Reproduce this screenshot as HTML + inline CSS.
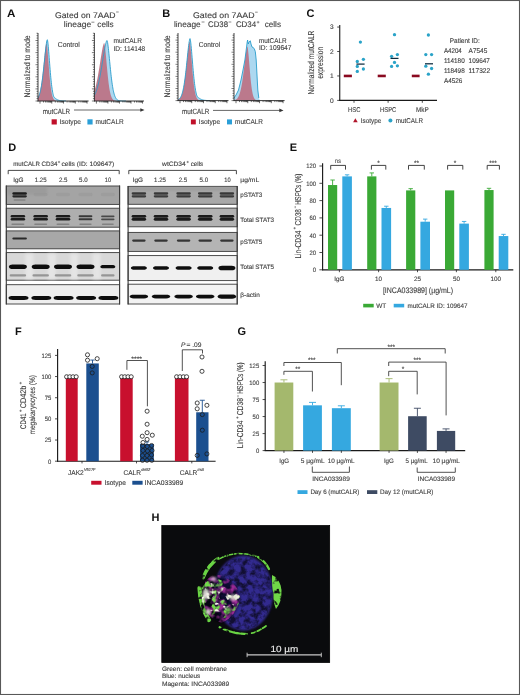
<!DOCTYPE html>
<html><head><meta charset="utf-8"><style>
html,body{margin:0;padding:0;background:#fff;}
svg{display:block;font-family:"Liberation Sans",sans-serif;text-rendering:geometricPrecision;will-change:transform;}
</style></head><body>
<svg width="520" height="695" viewBox="0 0 520 695">
<rect x="0" y="0" width="520" height="695" fill="#fff"/>
<defs><filter id="bl" x="-30%" y="-100%" width="160%" height="300%"><feGaussianBlur stdDeviation="0.6"/></filter><filter id="hb" x="-30%" y="-30%" width="160%" height="160%"><feGaussianBlur stdDeviation="0.9"/></filter><filter id="hb2" x="-30%" y="-30%" width="160%" height="160%"><feGaussianBlur stdDeviation="1.8"/></filter><radialGradient id="nuc" cx="0.55" cy="0.5" r="0.55"><stop offset="0" stop-color="#241c70"/><stop offset="0.8" stop-color="#30289a"/><stop offset="1" stop-color="#2a2290"/></radialGradient></defs>
<text x="6.90" y="16.70" font-size="11" textLength="8.40" lengthAdjust="spacingAndGlyphs" font-weight="bold" fill="#111">A</text>
<text x="55.00" y="17.60" font-size="8.1" textLength="60.60" lengthAdjust="spacingAndGlyphs" fill="#3e3e3e" stroke="#3e3e3e" stroke-width="0.12">Gated on 7AAD</text>
<line x1="116.10" y1="12.00" x2="118.70" y2="12.00" stroke="#3e3e3e" stroke-width="0.6"/>
<text x="63.80" y="27.40" font-size="8.1" textLength="27.40" lengthAdjust="spacingAndGlyphs" fill="#3e3e3e" stroke="#3e3e3e" stroke-width="0.12">lineage</text>
<line x1="91.40" y1="22.20" x2="94.40" y2="22.20" stroke="#3e3e3e" stroke-width="0.6"/>
<text x="97.30" y="27.40" font-size="8.1" textLength="16.40" lengthAdjust="spacingAndGlyphs" fill="#3e3e3e" stroke="#3e3e3e" stroke-width="0.12">cells</text>
<text x="29.90" y="97.40" font-size="8.3" textLength="62.00" lengthAdjust="spacingAndGlyphs" fill="#3e3e3e" stroke="#3e3e3e" stroke-width="0.12" transform="rotate(-90 29.90 97.40)">Normalized to mode</text>
<path d="M38.00,101.00 L38.00,97.88 L38.23,97.47 L38.47,97.02 L38.70,96.53 L38.93,95.97 L39.17,95.37 L39.40,94.70 L39.63,93.97 L39.87,93.17 L40.10,92.30 L40.33,91.35 L40.57,90.33 L40.80,89.22 L41.03,88.02 L41.27,86.74 L41.50,85.37 L41.73,83.90 L41.97,82.35 L42.20,80.70 L42.43,78.96 L42.67,77.13 L42.90,75.22 L43.13,73.23 L43.37,71.16 L43.60,69.03 L43.83,66.83 L44.07,64.59 L44.30,62.32 L44.53,60.03 L44.77,57.73 L45.00,55.45 L45.23,53.21 L45.47,51.03 L45.70,48.93 L45.93,46.95 L46.17,45.11 L46.40,43.45 L46.63,42.01 L46.87,40.85 L47.10,40.02 L47.33,39.73 L47.57,40.53 L47.80,42.01 L48.03,43.98 L48.27,46.32 L48.50,48.93 L48.73,51.75 L48.97,54.70 L49.20,57.73 L49.43,60.79 L49.67,63.84 L49.90,66.83 L50.13,69.74 L50.37,72.55 L50.60,75.22 L50.83,77.75 L51.07,80.13 L51.30,82.35 L51.53,84.40 L51.77,86.29 L52.00,88.02 L52.23,89.60 L52.47,91.02 L52.70,92.30 L52.93,93.44 L53.17,94.46 L53.40,95.37 L53.63,96.16 L53.87,96.86 L54.10,97.19 L54.33,97.40 L54.57,97.62 L54.80,97.82 L55.03,98.03 L55.27,98.22 L55.50,98.41 L55.73,98.59 L55.97,98.77 L56.20,98.94 L56.43,99.09 L56.67,99.25 L56.90,99.39 L57.13,99.52 L57.37,99.65 L57.60,99.77 L57.83,99.88 L58.07,99.98 L58.30,100.07 L58.53,100.16 L58.77,100.24 L59.00,100.32 L59.23,100.38 L59.47,100.45 L59.70,100.50 L59.93,100.56 L60.17,100.60 L60.40,100.65 L60.63,100.69 L60.87,100.72 L61.10,100.75 L61.33,100.78 L61.57,100.81 L61.80,100.83 L62.03,100.85 L62.27,100.87 L62.50,100.88 L62.73,100.90 L62.97,100.91 L63.20,100.92 L63.43,100.93 L63.67,100.94 L63.90,100.95 L64.13,100.96 L64.37,100.96 L64.60,100.97 L64.83,100.97 L65.07,100.98 L65.30,100.98 L65.53,100.98 L65.77,100.98 L66.00,100.99 L66.00,101.00" fill="#acd8f0" stroke="none" stroke-width="0.8" />
<path d="M38.00,101.00 L38.00,97.66 L38.20,97.28 L38.40,96.85 L38.60,96.38 L38.80,95.87 L39.00,95.32 L39.20,94.71 L39.40,94.05 L39.60,93.34 L39.80,92.57 L40.00,91.74 L40.20,90.84 L40.40,89.88 L40.60,88.86 L40.80,87.76 L41.00,86.59 L41.20,85.35 L41.40,84.04 L41.60,82.65 L41.80,81.19 L42.00,79.66 L42.20,78.06 L42.40,76.40 L42.60,74.67 L42.80,72.88 L43.00,71.04 L43.20,69.15 L43.40,67.22 L43.60,65.27 L43.80,63.29 L44.00,61.30 L44.20,59.32 L44.40,57.36 L44.60,55.42 L44.80,53.54 L45.00,51.73 L45.20,50.01 L45.40,48.41 L45.60,46.94 L45.80,45.63 L46.00,44.52 L46.20,43.66 L46.40,43.11 L46.60,43.17 L46.80,44.05 L47.00,45.40 L47.20,47.12 L47.40,49.12 L47.60,51.35 L47.80,53.74 L48.00,56.24 L48.20,58.83 L48.40,61.45 L48.60,64.08 L48.80,66.68 L49.00,69.24 L49.20,71.72 L49.40,74.12 L49.60,76.42 L49.80,78.61 L50.00,80.68 L50.20,82.63 L50.40,84.45 L50.60,86.14 L50.80,87.71 L51.00,89.15 L51.20,90.47 L51.40,91.67 L51.60,92.77 L51.80,93.76 L52.00,94.65 L52.20,95.44 L52.40,96.16 L52.60,96.79 L52.80,97.35 L53.00,97.85 L53.20,98.29 L53.40,98.67 L53.60,99.01 L53.80,99.30 L54.00,99.55 L54.20,99.77 L54.40,99.96 L54.60,100.12 L54.80,100.26 L55.00,100.38 L55.20,100.48 L55.40,100.56 L55.60,100.64 L55.80,100.70 L56.00,100.75 L56.20,100.79 L56.40,100.83 L56.60,100.86 L56.80,100.89 L57.00,100.91 L57.20,100.92 L57.40,100.94 L57.60,100.95 L57.80,100.96 L58.00,100.97 L58.20,100.97 L58.40,100.98 L58.60,100.98 L58.80,100.99 L59.00,100.99 L59.20,100.99 L59.40,100.99 L59.60,100.99 L59.80,101.00 L60.00,101.00 L60.20,101.00 L60.40,101.00 L60.60,101.00 L60.80,101.00 L61.00,101.00 L61.20,101.00 L61.40,101.00 L61.60,101.00 L61.80,101.00 L62.00,101.00 L62.00,101.00" fill="#bc7486" stroke="none" stroke-width="0.8" fill-opacity="0.95"/>
<path d="M38.00,97.88 L38.23,97.47 L38.47,97.02 L38.70,96.53 L38.93,95.97 L39.17,95.37 L39.40,94.70 L39.63,93.97 L39.87,93.17 L40.10,92.30 L40.33,91.35 L40.57,90.33 L40.80,89.22 L41.03,88.02 L41.27,86.74 L41.50,85.37 L41.73,83.90 L41.97,82.35 L42.20,80.70 L42.43,78.96 L42.67,77.13 L42.90,75.22 L43.13,73.23 L43.37,71.16 L43.60,69.03 L43.83,66.83 L44.07,64.59 L44.30,62.32 L44.53,60.03 L44.77,57.73 L45.00,55.45 L45.23,53.21 L45.47,51.03 L45.70,48.93 L45.93,46.95 L46.17,45.11 L46.40,43.45 L46.63,42.01 L46.87,40.85 L47.10,40.02 L47.33,39.73 L47.57,40.53 L47.80,42.01 L48.03,43.98 L48.27,46.32 L48.50,48.93 L48.73,51.75 L48.97,54.70 L49.20,57.73 L49.43,60.79 L49.67,63.84 L49.90,66.83 L50.13,69.74 L50.37,72.55 L50.60,75.22 L50.83,77.75 L51.07,80.13 L51.30,82.35 L51.53,84.40 L51.77,86.29 L52.00,88.02 L52.23,89.60 L52.47,91.02 L52.70,92.30 L52.93,93.44 L53.17,94.46 L53.40,95.37 L53.63,96.16 L53.87,96.86 L54.10,97.19 L54.33,97.40 L54.57,97.62 L54.80,97.82 L55.03,98.03 L55.27,98.22 L55.50,98.41 L55.73,98.59 L55.97,98.77 L56.20,98.94 L56.43,99.09 L56.67,99.25 L56.90,99.39 L57.13,99.52 L57.37,99.65 L57.60,99.77 L57.83,99.88 L58.07,99.98 L58.30,100.07 L58.53,100.16 L58.77,100.24 L59.00,100.32 L59.23,100.38 L59.47,100.45 L59.70,100.50 L59.93,100.56 L60.17,100.60 L60.40,100.65 L60.63,100.69 L60.87,100.72 L61.10,100.75 L61.33,100.78 L61.57,100.81 L61.80,100.83 L62.03,100.85 L62.27,100.87 L62.50,100.88 L62.73,100.90 L62.97,100.91 L63.20,100.92 L63.43,100.93 L63.67,100.94 L63.90,100.95 L64.13,100.96 L64.37,100.96 L64.60,100.97 L64.83,100.97 L65.07,100.98 L65.30,100.98 L65.53,100.98 L65.77,100.98 L66.00,100.99" fill="none" stroke="#2a9dcc" stroke-width="0.9" />
<line x1="35.50" y1="101.00" x2="38.00" y2="101.00" stroke="#2a2a2a" stroke-width="0.6"/>
<line x1="36.50" y1="98.58" x2="38.00" y2="98.58" stroke="#2a2a2a" stroke-width="0.6"/>
<line x1="36.50" y1="96.16" x2="38.00" y2="96.16" stroke="#2a2a2a" stroke-width="0.6"/>
<line x1="36.50" y1="93.74" x2="38.00" y2="93.74" stroke="#2a2a2a" stroke-width="0.6"/>
<line x1="36.50" y1="91.32" x2="38.00" y2="91.32" stroke="#2a2a2a" stroke-width="0.6"/>
<line x1="35.50" y1="88.90" x2="38.00" y2="88.90" stroke="#2a2a2a" stroke-width="0.6"/>
<line x1="36.50" y1="86.48" x2="38.00" y2="86.48" stroke="#2a2a2a" stroke-width="0.6"/>
<line x1="36.50" y1="84.06" x2="38.00" y2="84.06" stroke="#2a2a2a" stroke-width="0.6"/>
<line x1="36.50" y1="81.64" x2="38.00" y2="81.64" stroke="#2a2a2a" stroke-width="0.6"/>
<line x1="36.50" y1="79.22" x2="38.00" y2="79.22" stroke="#2a2a2a" stroke-width="0.6"/>
<line x1="35.50" y1="76.80" x2="38.00" y2="76.80" stroke="#2a2a2a" stroke-width="0.6"/>
<line x1="36.50" y1="74.38" x2="38.00" y2="74.38" stroke="#2a2a2a" stroke-width="0.6"/>
<line x1="36.50" y1="71.96" x2="38.00" y2="71.96" stroke="#2a2a2a" stroke-width="0.6"/>
<line x1="36.50" y1="69.54" x2="38.00" y2="69.54" stroke="#2a2a2a" stroke-width="0.6"/>
<line x1="36.50" y1="67.12" x2="38.00" y2="67.12" stroke="#2a2a2a" stroke-width="0.6"/>
<line x1="35.50" y1="64.70" x2="38.00" y2="64.70" stroke="#2a2a2a" stroke-width="0.6"/>
<line x1="36.50" y1="62.28" x2="38.00" y2="62.28" stroke="#2a2a2a" stroke-width="0.6"/>
<line x1="36.50" y1="59.86" x2="38.00" y2="59.86" stroke="#2a2a2a" stroke-width="0.6"/>
<line x1="36.50" y1="57.44" x2="38.00" y2="57.44" stroke="#2a2a2a" stroke-width="0.6"/>
<line x1="36.50" y1="55.02" x2="38.00" y2="55.02" stroke="#2a2a2a" stroke-width="0.6"/>
<line x1="35.50" y1="52.60" x2="38.00" y2="52.60" stroke="#2a2a2a" stroke-width="0.6"/>
<line x1="36.50" y1="50.18" x2="38.00" y2="50.18" stroke="#2a2a2a" stroke-width="0.6"/>
<line x1="36.50" y1="47.76" x2="38.00" y2="47.76" stroke="#2a2a2a" stroke-width="0.6"/>
<line x1="36.50" y1="45.34" x2="38.00" y2="45.34" stroke="#2a2a2a" stroke-width="0.6"/>
<line x1="36.50" y1="42.92" x2="38.00" y2="42.92" stroke="#2a2a2a" stroke-width="0.6"/>
<line x1="35.50" y1="40.50" x2="38.00" y2="40.50" stroke="#2a2a2a" stroke-width="0.6"/>
<line x1="36.50" y1="38.08" x2="38.00" y2="38.08" stroke="#2a2a2a" stroke-width="0.6"/>
<line x1="36.50" y1="35.66" x2="38.00" y2="35.66" stroke="#2a2a2a" stroke-width="0.6"/>
<line x1="36.50" y1="33.24" x2="38.00" y2="33.24" stroke="#2a2a2a" stroke-width="0.6"/>
<line x1="40.00" y1="101.00" x2="40.00" y2="103.60" stroke="#222" stroke-width="0.65"/>
<line x1="43.54" y1="101.00" x2="43.54" y2="102.50" stroke="#222" stroke-width="0.65"/>
<line x1="45.61" y1="101.00" x2="45.61" y2="102.50" stroke="#222" stroke-width="0.65"/>
<line x1="47.08" y1="101.00" x2="47.08" y2="102.50" stroke="#222" stroke-width="0.65"/>
<line x1="48.23" y1="101.00" x2="48.23" y2="102.50" stroke="#222" stroke-width="0.65"/>
<line x1="49.16" y1="101.00" x2="49.16" y2="102.50" stroke="#222" stroke-width="0.65"/>
<line x1="49.94" y1="101.00" x2="49.94" y2="102.50" stroke="#222" stroke-width="0.65"/>
<line x1="50.63" y1="101.00" x2="50.63" y2="102.50" stroke="#222" stroke-width="0.65"/>
<line x1="51.23" y1="101.00" x2="51.23" y2="102.50" stroke="#222" stroke-width="0.65"/>
<line x1="51.77" y1="101.00" x2="51.77" y2="103.60" stroke="#222" stroke-width="0.65"/>
<line x1="55.31" y1="101.00" x2="55.31" y2="102.50" stroke="#222" stroke-width="0.65"/>
<line x1="57.38" y1="101.00" x2="57.38" y2="102.50" stroke="#222" stroke-width="0.65"/>
<line x1="58.85" y1="101.00" x2="58.85" y2="102.50" stroke="#222" stroke-width="0.65"/>
<line x1="59.99" y1="101.00" x2="59.99" y2="102.50" stroke="#222" stroke-width="0.65"/>
<line x1="60.92" y1="101.00" x2="60.92" y2="102.50" stroke="#222" stroke-width="0.65"/>
<line x1="61.71" y1="101.00" x2="61.71" y2="102.50" stroke="#222" stroke-width="0.65"/>
<line x1="62.39" y1="101.00" x2="62.39" y2="102.50" stroke="#222" stroke-width="0.65"/>
<line x1="63.00" y1="101.00" x2="63.00" y2="102.50" stroke="#222" stroke-width="0.65"/>
<line x1="63.53" y1="101.00" x2="63.53" y2="103.60" stroke="#222" stroke-width="0.65"/>
<line x1="67.08" y1="101.00" x2="67.08" y2="102.50" stroke="#222" stroke-width="0.65"/>
<line x1="69.15" y1="101.00" x2="69.15" y2="102.50" stroke="#222" stroke-width="0.65"/>
<line x1="70.62" y1="101.00" x2="70.62" y2="102.50" stroke="#222" stroke-width="0.65"/>
<line x1="71.76" y1="101.00" x2="71.76" y2="102.50" stroke="#222" stroke-width="0.65"/>
<line x1="72.69" y1="101.00" x2="72.69" y2="102.50" stroke="#222" stroke-width="0.65"/>
<line x1="73.48" y1="101.00" x2="73.48" y2="102.50" stroke="#222" stroke-width="0.65"/>
<line x1="74.16" y1="101.00" x2="74.16" y2="102.50" stroke="#222" stroke-width="0.65"/>
<line x1="74.76" y1="101.00" x2="74.76" y2="102.50" stroke="#222" stroke-width="0.65"/>
<line x1="75.30" y1="101.00" x2="75.30" y2="103.60" stroke="#222" stroke-width="0.65"/>
<line x1="78.84" y1="101.00" x2="78.84" y2="102.50" stroke="#222" stroke-width="0.65"/>
<line x1="80.92" y1="101.00" x2="80.92" y2="102.50" stroke="#222" stroke-width="0.65"/>
<line x1="82.39" y1="101.00" x2="82.39" y2="102.50" stroke="#222" stroke-width="0.65"/>
<line x1="83.53" y1="101.00" x2="83.53" y2="102.50" stroke="#222" stroke-width="0.65"/>
<line x1="84.46" y1="101.00" x2="84.46" y2="102.50" stroke="#222" stroke-width="0.65"/>
<line x1="85.25" y1="101.00" x2="85.25" y2="102.50" stroke="#222" stroke-width="0.65"/>
<line x1="85.93" y1="101.00" x2="85.93" y2="102.50" stroke="#222" stroke-width="0.65"/>
<line x1="86.53" y1="101.00" x2="86.53" y2="102.50" stroke="#222" stroke-width="0.65"/>
<line x1="87.07" y1="101.00" x2="87.07" y2="103.60" stroke="#222" stroke-width="0.65"/>
<line x1="38.00" y1="33.00" x2="38.00" y2="101.40" stroke="#222" stroke-width="0.85"/>
<line x1="37.60" y1="101.00" x2="88.60" y2="101.00" stroke="#222" stroke-width="0.9"/>
<text x="57.70" y="46.50" font-size="7.2" textLength="22.10" lengthAdjust="spacingAndGlyphs" fill="#3e3e3e" stroke="#3e3e3e" stroke-width="0.12">Control</text>
<path d="M94.40,101.00 L94.40,95.25 L94.66,94.77 L94.93,94.25 L95.19,93.70 L95.45,93.12 L95.72,92.49 L95.98,91.83 L96.24,91.13 L96.51,90.39 L96.77,89.60 L97.03,88.77 L97.30,87.89 L97.56,86.97 L97.82,86.01 L98.09,84.99 L98.35,83.93 L98.61,82.82 L98.88,81.67 L99.14,80.46 L99.40,79.21 L99.67,77.92 L99.93,76.58 L100.19,75.20 L100.46,73.77 L100.72,72.31 L100.98,70.81 L101.25,69.28 L101.51,67.72 L101.77,66.13 L102.04,64.53 L102.30,62.90 L102.56,61.27 L102.83,59.63 L103.09,58.00 L103.35,56.37 L103.62,54.76 L103.88,53.18 L104.14,51.63 L104.41,50.13 L104.67,48.68 L104.93,47.30 L105.20,45.99 L105.46,44.78 L105.72,43.67 L105.99,42.68 L106.25,41.84 L106.51,41.16 L106.78,40.68 L107.04,40.52 L107.30,41.20 L107.57,42.45 L107.83,44.11 L108.09,46.09 L108.36,48.31 L108.62,50.73 L108.88,53.29 L109.15,55.95 L109.41,58.66 L109.67,61.39 L109.94,64.10 L110.20,66.78 L110.46,69.39 L110.73,71.92 L110.99,74.35 L111.25,76.68 L111.52,78.88 L111.78,80.96 L112.04,82.90 L112.31,84.72 L112.57,86.40 L112.83,87.96 L113.10,89.39 L113.36,90.69 L113.62,91.88 L113.89,92.96 L114.15,93.93 L114.41,94.80 L114.68,95.59 L114.94,96.29 L115.20,96.91 L115.47,97.46 L115.73,97.94 L115.99,98.37 L116.26,98.74 L116.52,99.07 L116.78,99.35 L117.05,99.60 L117.31,99.81 L117.57,99.99 L117.84,100.15 L118.10,100.28 L118.36,100.40 L118.63,100.50 L118.89,100.58 L119.15,100.65 L119.42,100.71 L119.68,100.76 L119.94,100.80 L120.21,100.84 L120.47,100.86 L120.73,100.89 L121.00,100.91 L121.26,100.93 L121.52,100.94 L121.79,100.95 L122.05,100.96 L122.31,100.97 L122.58,100.97 L122.84,100.98 L123.10,100.98 L123.37,100.99 L123.63,100.99 L123.89,100.99 L124.16,100.99 L124.42,100.99 L124.68,101.00 L124.95,101.00 L125.21,101.00 L125.47,101.00 L125.74,101.00 L126.00,101.00 L126.00,101.00" fill="#acd8f0" stroke="none" stroke-width="0.8" />
<path d="M94.40,101.00 L94.40,90.84 L94.61,90.19 L94.83,89.51 L95.04,88.79 L95.25,88.05 L95.47,87.27 L95.68,86.45 L95.89,85.60 L96.11,84.72 L96.32,83.80 L96.53,82.85 L96.75,81.87 L96.96,80.85 L97.17,79.80 L97.39,78.71 L97.60,77.59 L97.81,76.45 L98.03,75.27 L98.24,74.06 L98.45,72.83 L98.67,71.57 L98.88,70.29 L99.09,68.99 L99.31,67.67 L99.52,66.33 L99.73,64.98 L99.95,63.63 L100.16,62.27 L100.37,60.90 L100.59,59.55 L100.80,58.19 L101.01,56.85 L101.23,55.53 L101.44,54.24 L101.65,52.97 L101.87,51.73 L102.08,50.54 L102.29,49.40 L102.51,48.32 L102.72,47.30 L102.93,46.35 L103.15,45.49 L103.36,44.73 L103.57,44.07 L103.79,43.54 L104.00,43.16 L104.21,43.00 L104.43,43.51 L104.64,44.50 L104.85,45.85 L105.07,47.47 L105.28,49.32 L105.49,51.34 L105.71,53.50 L105.92,55.76 L106.13,58.09 L106.35,60.46 L106.56,62.84 L106.77,65.22 L106.99,67.56 L107.20,69.86 L107.41,72.10 L107.63,74.27 L107.84,76.36 L108.05,78.35 L108.27,80.24 L108.48,82.04 L108.69,83.73 L108.91,85.32 L109.12,86.80 L109.33,88.18 L109.55,89.45 L109.76,90.63 L109.97,91.72 L110.19,92.71 L110.40,93.61 L110.61,94.44 L110.83,95.19 L111.04,95.86 L111.25,96.47 L111.47,97.02 L111.68,97.50 L111.89,97.94 L112.11,98.33 L112.32,98.67 L112.53,98.98 L112.75,99.25 L112.96,99.49 L113.17,99.69 L113.39,99.88 L113.60,100.03 L113.81,100.17 L114.03,100.29 L114.24,100.40 L114.45,100.49 L114.67,100.56 L114.88,100.63 L115.09,100.69 L115.31,100.74 L115.52,100.78 L115.73,100.81 L115.95,100.84 L116.16,100.87 L116.37,100.89 L116.59,100.91 L116.80,100.92 L117.01,100.94 L117.23,100.95 L117.44,100.96 L117.65,100.96 L117.87,100.97 L118.08,100.98 L118.29,100.98 L118.51,100.98 L118.72,100.99 L118.93,100.99 L119.15,100.99 L119.36,100.99 L119.57,100.99 L119.79,101.00 L120.00,101.00 L120.00,101.00" fill="#bc7486" stroke="none" stroke-width="0.8" fill-opacity="0.95"/>
<path d="M94.40,95.25 L94.66,94.77 L94.93,94.25 L95.19,93.70 L95.45,93.12 L95.72,92.49 L95.98,91.83 L96.24,91.13 L96.51,90.39 L96.77,89.60 L97.03,88.77 L97.30,87.89 L97.56,86.97 L97.82,86.01 L98.09,84.99 L98.35,83.93 L98.61,82.82 L98.88,81.67 L99.14,80.46 L99.40,79.21 L99.67,77.92 L99.93,76.58 L100.19,75.20 L100.46,73.77 L100.72,72.31 L100.98,70.81 L101.25,69.28 L101.51,67.72 L101.77,66.13 L102.04,64.53 L102.30,62.90 L102.56,61.27 L102.83,59.63 L103.09,58.00 L103.35,56.37 L103.62,54.76 L103.88,53.18 L104.14,51.63 L104.41,50.13 L104.67,48.68 L104.93,47.30 L105.20,45.99 L105.46,44.78 L105.72,43.67 L105.99,42.68 L106.25,41.84 L106.51,41.16 L106.78,40.68 L107.04,40.52 L107.30,41.20 L107.57,42.45 L107.83,44.11 L108.09,46.09 L108.36,48.31 L108.62,50.73 L108.88,53.29 L109.15,55.95 L109.41,58.66 L109.67,61.39 L109.94,64.10 L110.20,66.78 L110.46,69.39 L110.73,71.92 L110.99,74.35 L111.25,76.68 L111.52,78.88 L111.78,80.96 L112.04,82.90 L112.31,84.72 L112.57,86.40 L112.83,87.96 L113.10,89.39 L113.36,90.69 L113.62,91.88 L113.89,92.96 L114.15,93.93 L114.41,94.80 L114.68,95.59 L114.94,96.29 L115.20,96.91 L115.47,97.46 L115.73,97.94 L115.99,98.37 L116.26,98.74 L116.52,99.07 L116.78,99.35 L117.05,99.60 L117.31,99.81 L117.57,99.99 L117.84,100.15 L118.10,100.28 L118.36,100.40 L118.63,100.50 L118.89,100.58 L119.15,100.65 L119.42,100.71 L119.68,100.76 L119.94,100.80 L120.21,100.84 L120.47,100.86 L120.73,100.89 L121.00,100.91 L121.26,100.93 L121.52,100.94 L121.79,100.95 L122.05,100.96 L122.31,100.97 L122.58,100.97 L122.84,100.98 L123.10,100.98 L123.37,100.99 L123.63,100.99 L123.89,100.99 L124.16,100.99 L124.42,100.99 L124.68,101.00 L124.95,101.00 L125.21,101.00 L125.47,101.00 L125.74,101.00 L126.00,101.00" fill="none" stroke="#2a9dcc" stroke-width="0.9" />
<line x1="91.90" y1="101.00" x2="94.40" y2="101.00" stroke="#2a2a2a" stroke-width="0.6"/>
<line x1="92.90" y1="98.58" x2="94.40" y2="98.58" stroke="#2a2a2a" stroke-width="0.6"/>
<line x1="92.90" y1="96.16" x2="94.40" y2="96.16" stroke="#2a2a2a" stroke-width="0.6"/>
<line x1="92.90" y1="93.74" x2="94.40" y2="93.74" stroke="#2a2a2a" stroke-width="0.6"/>
<line x1="92.90" y1="91.32" x2="94.40" y2="91.32" stroke="#2a2a2a" stroke-width="0.6"/>
<line x1="91.90" y1="88.90" x2="94.40" y2="88.90" stroke="#2a2a2a" stroke-width="0.6"/>
<line x1="92.90" y1="86.48" x2="94.40" y2="86.48" stroke="#2a2a2a" stroke-width="0.6"/>
<line x1="92.90" y1="84.06" x2="94.40" y2="84.06" stroke="#2a2a2a" stroke-width="0.6"/>
<line x1="92.90" y1="81.64" x2="94.40" y2="81.64" stroke="#2a2a2a" stroke-width="0.6"/>
<line x1="92.90" y1="79.22" x2="94.40" y2="79.22" stroke="#2a2a2a" stroke-width="0.6"/>
<line x1="91.90" y1="76.80" x2="94.40" y2="76.80" stroke="#2a2a2a" stroke-width="0.6"/>
<line x1="92.90" y1="74.38" x2="94.40" y2="74.38" stroke="#2a2a2a" stroke-width="0.6"/>
<line x1="92.90" y1="71.96" x2="94.40" y2="71.96" stroke="#2a2a2a" stroke-width="0.6"/>
<line x1="92.90" y1="69.54" x2="94.40" y2="69.54" stroke="#2a2a2a" stroke-width="0.6"/>
<line x1="92.90" y1="67.12" x2="94.40" y2="67.12" stroke="#2a2a2a" stroke-width="0.6"/>
<line x1="91.90" y1="64.70" x2="94.40" y2="64.70" stroke="#2a2a2a" stroke-width="0.6"/>
<line x1="92.90" y1="62.28" x2="94.40" y2="62.28" stroke="#2a2a2a" stroke-width="0.6"/>
<line x1="92.90" y1="59.86" x2="94.40" y2="59.86" stroke="#2a2a2a" stroke-width="0.6"/>
<line x1="92.90" y1="57.44" x2="94.40" y2="57.44" stroke="#2a2a2a" stroke-width="0.6"/>
<line x1="92.90" y1="55.02" x2="94.40" y2="55.02" stroke="#2a2a2a" stroke-width="0.6"/>
<line x1="91.90" y1="52.60" x2="94.40" y2="52.60" stroke="#2a2a2a" stroke-width="0.6"/>
<line x1="92.90" y1="50.18" x2="94.40" y2="50.18" stroke="#2a2a2a" stroke-width="0.6"/>
<line x1="92.90" y1="47.76" x2="94.40" y2="47.76" stroke="#2a2a2a" stroke-width="0.6"/>
<line x1="92.90" y1="45.34" x2="94.40" y2="45.34" stroke="#2a2a2a" stroke-width="0.6"/>
<line x1="92.90" y1="42.92" x2="94.40" y2="42.92" stroke="#2a2a2a" stroke-width="0.6"/>
<line x1="91.90" y1="40.50" x2="94.40" y2="40.50" stroke="#2a2a2a" stroke-width="0.6"/>
<line x1="92.90" y1="38.08" x2="94.40" y2="38.08" stroke="#2a2a2a" stroke-width="0.6"/>
<line x1="92.90" y1="35.66" x2="94.40" y2="35.66" stroke="#2a2a2a" stroke-width="0.6"/>
<line x1="92.90" y1="33.24" x2="94.40" y2="33.24" stroke="#2a2a2a" stroke-width="0.6"/>
<line x1="96.40" y1="101.00" x2="96.40" y2="103.60" stroke="#222" stroke-width="0.65"/>
<line x1="99.87" y1="101.00" x2="99.87" y2="102.50" stroke="#222" stroke-width="0.65"/>
<line x1="101.90" y1="101.00" x2="101.90" y2="102.50" stroke="#222" stroke-width="0.65"/>
<line x1="103.34" y1="101.00" x2="103.34" y2="102.50" stroke="#222" stroke-width="0.65"/>
<line x1="104.46" y1="101.00" x2="104.46" y2="102.50" stroke="#222" stroke-width="0.65"/>
<line x1="105.38" y1="101.00" x2="105.38" y2="102.50" stroke="#222" stroke-width="0.65"/>
<line x1="106.15" y1="101.00" x2="106.15" y2="102.50" stroke="#222" stroke-width="0.65"/>
<line x1="106.82" y1="101.00" x2="106.82" y2="102.50" stroke="#222" stroke-width="0.65"/>
<line x1="107.41" y1="101.00" x2="107.41" y2="102.50" stroke="#222" stroke-width="0.65"/>
<line x1="107.93" y1="101.00" x2="107.93" y2="103.60" stroke="#222" stroke-width="0.65"/>
<line x1="111.41" y1="101.00" x2="111.41" y2="102.50" stroke="#222" stroke-width="0.65"/>
<line x1="113.44" y1="101.00" x2="113.44" y2="102.50" stroke="#222" stroke-width="0.65"/>
<line x1="114.88" y1="101.00" x2="114.88" y2="102.50" stroke="#222" stroke-width="0.65"/>
<line x1="116.00" y1="101.00" x2="116.00" y2="102.50" stroke="#222" stroke-width="0.65"/>
<line x1="116.91" y1="101.00" x2="116.91" y2="102.50" stroke="#222" stroke-width="0.65"/>
<line x1="117.68" y1="101.00" x2="117.68" y2="102.50" stroke="#222" stroke-width="0.65"/>
<line x1="118.35" y1="101.00" x2="118.35" y2="102.50" stroke="#222" stroke-width="0.65"/>
<line x1="118.94" y1="101.00" x2="118.94" y2="102.50" stroke="#222" stroke-width="0.65"/>
<line x1="119.47" y1="101.00" x2="119.47" y2="103.60" stroke="#222" stroke-width="0.65"/>
<line x1="122.94" y1="101.00" x2="122.94" y2="102.50" stroke="#222" stroke-width="0.65"/>
<line x1="124.97" y1="101.00" x2="124.97" y2="102.50" stroke="#222" stroke-width="0.65"/>
<line x1="126.41" y1="101.00" x2="126.41" y2="102.50" stroke="#222" stroke-width="0.65"/>
<line x1="127.53" y1="101.00" x2="127.53" y2="102.50" stroke="#222" stroke-width="0.65"/>
<line x1="128.45" y1="101.00" x2="128.45" y2="102.50" stroke="#222" stroke-width="0.65"/>
<line x1="129.22" y1="101.00" x2="129.22" y2="102.50" stroke="#222" stroke-width="0.65"/>
<line x1="129.89" y1="101.00" x2="129.89" y2="102.50" stroke="#222" stroke-width="0.65"/>
<line x1="130.48" y1="101.00" x2="130.48" y2="102.50" stroke="#222" stroke-width="0.65"/>
<line x1="131.00" y1="101.00" x2="131.00" y2="103.60" stroke="#222" stroke-width="0.65"/>
<line x1="134.48" y1="101.00" x2="134.48" y2="102.50" stroke="#222" stroke-width="0.65"/>
<line x1="136.51" y1="101.00" x2="136.51" y2="102.50" stroke="#222" stroke-width="0.65"/>
<line x1="137.95" y1="101.00" x2="137.95" y2="102.50" stroke="#222" stroke-width="0.65"/>
<line x1="139.07" y1="101.00" x2="139.07" y2="102.50" stroke="#222" stroke-width="0.65"/>
<line x1="139.98" y1="101.00" x2="139.98" y2="102.50" stroke="#222" stroke-width="0.65"/>
<line x1="140.75" y1="101.00" x2="140.75" y2="102.50" stroke="#222" stroke-width="0.65"/>
<line x1="141.42" y1="101.00" x2="141.42" y2="102.50" stroke="#222" stroke-width="0.65"/>
<line x1="142.01" y1="101.00" x2="142.01" y2="102.50" stroke="#222" stroke-width="0.65"/>
<line x1="142.54" y1="101.00" x2="142.54" y2="103.60" stroke="#222" stroke-width="0.65"/>
<line x1="94.40" y1="33.00" x2="94.40" y2="101.40" stroke="#222" stroke-width="0.85"/>
<line x1="94.00" y1="101.00" x2="144.00" y2="101.00" stroke="#222" stroke-width="0.9"/>
<text x="113.50" y="42.90" font-size="7" textLength="28.50" lengthAdjust="spacingAndGlyphs" fill="#3e3e3e" stroke="#3e3e3e" stroke-width="0.12">mutCALR</text>
<text x="113.50" y="50.50" font-size="7" textLength="31.70" lengthAdjust="spacingAndGlyphs" fill="#3e3e3e" stroke="#3e3e3e" stroke-width="0.12">ID: 114148</text>
<text x="42.70" y="113.50" font-size="7.6" textLength="27.30" lengthAdjust="spacingAndGlyphs" fill="#3e3e3e" stroke="#3e3e3e" stroke-width="0.12">mutCALR</text>
<line x1="74.00" y1="110.00" x2="141.00" y2="110.00" stroke="#333" stroke-width="0.75"/>
<path d="M144.50,110.00 L140.30,108.20 L140.30,111.80 Z" fill="#333" stroke="none" stroke-width="0.8" />
<rect x="51.60" y="119.30" width="5.20" height="5.20" fill="#c0102a" />
<text x="59.70" y="123.90" font-size="7" textLength="21.30" lengthAdjust="spacingAndGlyphs" fill="#3e3e3e" stroke="#3e3e3e" stroke-width="0.12">Isotype</text>
<rect x="87.40" y="119.30" width="5.20" height="5.20" fill="#2a9fd8" />
<text x="95.50" y="123.90" font-size="7" textLength="28.20" lengthAdjust="spacingAndGlyphs" fill="#3e3e3e" stroke="#3e3e3e" stroke-width="0.12">mutCALR</text>
<text x="162.30" y="16.80" font-size="11" font-weight="bold" fill="#111">B</text>
<text x="193.00" y="18.00" font-size="8.1" textLength="61.50" lengthAdjust="spacingAndGlyphs" fill="#3e3e3e" stroke="#3e3e3e" stroke-width="0.12">Gated on 7AAD</text>
<line x1="255.10" y1="12.20" x2="257.70" y2="12.20" stroke="#3e3e3e" stroke-width="0.6"/>
<text x="173.90" y="27.30" font-size="8.1" textLength="26.80" lengthAdjust="spacingAndGlyphs" fill="#3e3e3e" stroke="#3e3e3e" stroke-width="0.12">lineage</text>
<line x1="201.60" y1="22.00" x2="204.50" y2="22.00" stroke="#3e3e3e" stroke-width="0.6"/>
<text x="208.00" y="27.30" font-size="8.1" textLength="20.00" lengthAdjust="spacingAndGlyphs" fill="#3e3e3e" stroke="#3e3e3e" stroke-width="0.12">CD38</text>
<line x1="228.60" y1="22.00" x2="231.30" y2="22.00" stroke="#3e3e3e" stroke-width="0.6"/>
<text x="235.90" y="27.30" font-size="8.1" textLength="20.30" lengthAdjust="spacingAndGlyphs" fill="#3e3e3e" stroke="#3e3e3e" stroke-width="0.12">CD34</text>
<line x1="256.80" y1="22.20" x2="259.40" y2="22.20" stroke="#3e3e3e" stroke-width="0.55"/>
<line x1="258.10" y1="20.90" x2="258.10" y2="23.50" stroke="#3e3e3e" stroke-width="0.55"/>
<text x="264.70" y="27.30" font-size="8.1" textLength="16.30" lengthAdjust="spacingAndGlyphs" fill="#3e3e3e" stroke="#3e3e3e" stroke-width="0.12">cells</text>
<text x="170.00" y="97.40" font-size="8.3" textLength="62.00" lengthAdjust="spacingAndGlyphs" fill="#3e3e3e" stroke="#3e3e3e" stroke-width="0.12" transform="rotate(-90 170.00 97.40)">Normalized to mode</text>
<path d="M178.00,100.60 L178.00,99.83 L178.27,99.69 L178.53,99.54 L178.80,99.36 L179.07,99.16 L179.33,98.92 L179.60,98.65 L179.87,98.35 L180.13,98.01 L180.40,97.61 L180.67,97.17 L180.93,96.68 L181.20,96.12 L181.47,95.50 L181.73,94.80 L182.00,94.03 L182.27,93.18 L182.53,92.24 L182.80,91.21 L183.07,90.07 L183.33,88.83 L183.60,87.49 L183.87,86.03 L184.13,84.46 L184.40,82.77 L184.67,80.97 L184.93,79.05 L185.20,77.02 L185.47,74.87 L185.73,72.63 L186.00,70.28 L186.27,67.86 L186.53,65.36 L186.80,62.81 L187.07,60.22 L187.33,57.62 L187.60,55.03 L187.87,52.49 L188.13,50.01 L188.40,47.65 L188.67,45.43 L188.93,43.41 L189.20,41.64 L189.47,40.18 L189.73,39.11 L190.00,38.60 L190.27,39.34 L190.53,40.88 L190.80,42.98 L191.07,45.49 L191.33,48.30 L191.60,51.33 L191.87,54.51 L192.13,57.76 L192.40,61.02 L192.67,64.25 L192.93,67.41 L193.20,70.47 L193.47,73.39 L193.73,76.15 L194.00,78.74 L194.27,81.16 L194.53,83.39 L194.80,85.44 L195.07,87.31 L195.33,89.00 L195.60,90.52 L195.87,91.88 L196.13,93.09 L196.40,94.16 L196.67,95.10 L196.93,95.92 L197.20,96.61 L197.47,96.84 L197.73,97.06 L198.00,97.28 L198.27,97.49 L198.53,97.70 L198.80,97.90 L199.07,98.09 L199.33,98.28 L199.60,98.46 L199.87,98.63 L200.13,98.79 L200.40,98.94 L200.67,99.08 L200.93,99.21 L201.20,99.34 L201.47,99.45 L201.73,99.56 L202.00,99.66 L202.27,99.75 L202.53,99.84 L202.80,99.92 L203.07,99.99 L203.33,100.05 L203.60,100.11 L203.87,100.16 L204.13,100.21 L204.40,100.26 L204.67,100.30 L204.93,100.33 L205.20,100.36 L205.47,100.39 L205.73,100.42 L206.00,100.44 L206.27,100.46 L206.53,100.48 L206.80,100.49 L207.07,100.51 L207.33,100.52 L207.60,100.53 L207.87,100.54 L208.13,100.55 L208.40,100.56 L208.67,100.56 L208.93,100.57 L209.20,100.57 L209.47,100.58 L209.73,100.58 L210.00,100.58 L210.00,100.60" fill="#acd8f0" stroke="none" stroke-width="0.8" />
<path d="M178.00,100.60 L178.00,99.90 L178.22,99.80 L178.43,99.69 L178.65,99.56 L178.87,99.41 L179.08,99.25 L179.30,99.07 L179.52,98.86 L179.73,98.63 L179.95,98.37 L180.17,98.09 L180.38,97.77 L180.60,97.42 L180.82,97.03 L181.03,96.61 L181.25,96.13 L181.47,95.62 L181.68,95.05 L181.90,94.43 L182.12,93.76 L182.33,93.02 L182.55,92.23 L182.77,91.36 L182.98,90.43 L183.20,89.43 L183.42,88.35 L183.63,87.20 L183.85,85.97 L184.07,84.67 L184.28,83.28 L184.50,81.81 L184.72,80.26 L184.93,78.64 L185.15,76.94 L185.37,75.17 L185.58,73.33 L185.80,71.42 L186.02,69.46 L186.23,67.46 L186.45,65.41 L186.67,63.33 L186.88,61.24 L187.10,59.14 L187.32,57.06 L187.53,55.01 L187.75,53.00 L187.97,51.06 L188.18,49.22 L188.40,47.49 L188.62,45.90 L188.83,44.49 L189.05,43.29 L189.27,42.34 L189.48,41.73 L189.70,41.76 L189.92,42.66 L190.13,44.07 L190.35,45.87 L190.57,47.97 L190.78,50.30 L191.00,52.80 L191.22,55.42 L191.43,58.12 L191.65,60.85 L191.87,63.58 L192.08,66.28 L192.30,68.93 L192.52,71.49 L192.73,73.96 L192.95,76.32 L193.17,78.56 L193.38,80.67 L193.60,82.65 L193.82,84.49 L194.03,86.19 L194.25,87.77 L194.47,89.21 L194.68,90.52 L194.90,91.71 L195.12,92.79 L195.33,93.76 L195.55,94.63 L195.77,95.41 L195.98,96.10 L196.20,96.71 L196.42,97.25 L196.63,97.72 L196.85,98.13 L197.07,98.49 L197.28,98.81 L197.50,99.08 L197.72,99.31 L197.93,99.51 L198.15,99.69 L198.37,99.83 L198.58,99.96 L198.80,100.06 L199.02,100.15 L199.23,100.23 L199.45,100.29 L199.67,100.35 L199.88,100.39 L200.10,100.43 L200.32,100.46 L200.53,100.49 L200.75,100.51 L200.97,100.52 L201.18,100.54 L201.40,100.55 L201.62,100.56 L201.83,100.57 L202.05,100.57 L202.27,100.58 L202.48,100.58 L202.70,100.59 L202.92,100.59 L203.13,100.59 L203.35,100.59 L203.57,100.59 L203.78,100.60 L204.00,100.60 L204.00,100.60" fill="#bc7486" stroke="none" stroke-width="0.8" fill-opacity="0.95"/>
<path d="M178.00,99.83 L178.27,99.69 L178.53,99.54 L178.80,99.36 L179.07,99.16 L179.33,98.92 L179.60,98.65 L179.87,98.35 L180.13,98.01 L180.40,97.61 L180.67,97.17 L180.93,96.68 L181.20,96.12 L181.47,95.50 L181.73,94.80 L182.00,94.03 L182.27,93.18 L182.53,92.24 L182.80,91.21 L183.07,90.07 L183.33,88.83 L183.60,87.49 L183.87,86.03 L184.13,84.46 L184.40,82.77 L184.67,80.97 L184.93,79.05 L185.20,77.02 L185.47,74.87 L185.73,72.63 L186.00,70.28 L186.27,67.86 L186.53,65.36 L186.80,62.81 L187.07,60.22 L187.33,57.62 L187.60,55.03 L187.87,52.49 L188.13,50.01 L188.40,47.65 L188.67,45.43 L188.93,43.41 L189.20,41.64 L189.47,40.18 L189.73,39.11 L190.00,38.60 L190.27,39.34 L190.53,40.88 L190.80,42.98 L191.07,45.49 L191.33,48.30 L191.60,51.33 L191.87,54.51 L192.13,57.76 L192.40,61.02 L192.67,64.25 L192.93,67.41 L193.20,70.47 L193.47,73.39 L193.73,76.15 L194.00,78.74 L194.27,81.16 L194.53,83.39 L194.80,85.44 L195.07,87.31 L195.33,89.00 L195.60,90.52 L195.87,91.88 L196.13,93.09 L196.40,94.16 L196.67,95.10 L196.93,95.92 L197.20,96.61 L197.47,96.84 L197.73,97.06 L198.00,97.28 L198.27,97.49 L198.53,97.70 L198.80,97.90 L199.07,98.09 L199.33,98.28 L199.60,98.46 L199.87,98.63 L200.13,98.79 L200.40,98.94 L200.67,99.08 L200.93,99.21 L201.20,99.34 L201.47,99.45 L201.73,99.56 L202.00,99.66 L202.27,99.75 L202.53,99.84 L202.80,99.92 L203.07,99.99 L203.33,100.05 L203.60,100.11 L203.87,100.16 L204.13,100.21 L204.40,100.26 L204.67,100.30 L204.93,100.33 L205.20,100.36 L205.47,100.39 L205.73,100.42 L206.00,100.44 L206.27,100.46 L206.53,100.48 L206.80,100.49 L207.07,100.51 L207.33,100.52 L207.60,100.53 L207.87,100.54 L208.13,100.55 L208.40,100.56 L208.67,100.56 L208.93,100.57 L209.20,100.57 L209.47,100.58 L209.73,100.58 L210.00,100.58" fill="none" stroke="#2a9dcc" stroke-width="0.9" />
<line x1="175.50" y1="100.60" x2="178.00" y2="100.60" stroke="#2a2a2a" stroke-width="0.6"/>
<line x1="176.50" y1="98.18" x2="178.00" y2="98.18" stroke="#2a2a2a" stroke-width="0.6"/>
<line x1="176.50" y1="95.76" x2="178.00" y2="95.76" stroke="#2a2a2a" stroke-width="0.6"/>
<line x1="176.50" y1="93.34" x2="178.00" y2="93.34" stroke="#2a2a2a" stroke-width="0.6"/>
<line x1="176.50" y1="90.92" x2="178.00" y2="90.92" stroke="#2a2a2a" stroke-width="0.6"/>
<line x1="175.50" y1="88.50" x2="178.00" y2="88.50" stroke="#2a2a2a" stroke-width="0.6"/>
<line x1="176.50" y1="86.08" x2="178.00" y2="86.08" stroke="#2a2a2a" stroke-width="0.6"/>
<line x1="176.50" y1="83.66" x2="178.00" y2="83.66" stroke="#2a2a2a" stroke-width="0.6"/>
<line x1="176.50" y1="81.24" x2="178.00" y2="81.24" stroke="#2a2a2a" stroke-width="0.6"/>
<line x1="176.50" y1="78.82" x2="178.00" y2="78.82" stroke="#2a2a2a" stroke-width="0.6"/>
<line x1="175.50" y1="76.40" x2="178.00" y2="76.40" stroke="#2a2a2a" stroke-width="0.6"/>
<line x1="176.50" y1="73.98" x2="178.00" y2="73.98" stroke="#2a2a2a" stroke-width="0.6"/>
<line x1="176.50" y1="71.56" x2="178.00" y2="71.56" stroke="#2a2a2a" stroke-width="0.6"/>
<line x1="176.50" y1="69.14" x2="178.00" y2="69.14" stroke="#2a2a2a" stroke-width="0.6"/>
<line x1="176.50" y1="66.72" x2="178.00" y2="66.72" stroke="#2a2a2a" stroke-width="0.6"/>
<line x1="175.50" y1="64.30" x2="178.00" y2="64.30" stroke="#2a2a2a" stroke-width="0.6"/>
<line x1="176.50" y1="61.88" x2="178.00" y2="61.88" stroke="#2a2a2a" stroke-width="0.6"/>
<line x1="176.50" y1="59.46" x2="178.00" y2="59.46" stroke="#2a2a2a" stroke-width="0.6"/>
<line x1="176.50" y1="57.04" x2="178.00" y2="57.04" stroke="#2a2a2a" stroke-width="0.6"/>
<line x1="176.50" y1="54.62" x2="178.00" y2="54.62" stroke="#2a2a2a" stroke-width="0.6"/>
<line x1="175.50" y1="52.20" x2="178.00" y2="52.20" stroke="#2a2a2a" stroke-width="0.6"/>
<line x1="176.50" y1="49.78" x2="178.00" y2="49.78" stroke="#2a2a2a" stroke-width="0.6"/>
<line x1="176.50" y1="47.36" x2="178.00" y2="47.36" stroke="#2a2a2a" stroke-width="0.6"/>
<line x1="176.50" y1="44.94" x2="178.00" y2="44.94" stroke="#2a2a2a" stroke-width="0.6"/>
<line x1="176.50" y1="42.52" x2="178.00" y2="42.52" stroke="#2a2a2a" stroke-width="0.6"/>
<line x1="175.50" y1="40.10" x2="178.00" y2="40.10" stroke="#2a2a2a" stroke-width="0.6"/>
<line x1="176.50" y1="37.68" x2="178.00" y2="37.68" stroke="#2a2a2a" stroke-width="0.6"/>
<line x1="176.50" y1="35.26" x2="178.00" y2="35.26" stroke="#2a2a2a" stroke-width="0.6"/>
<line x1="180.00" y1="100.60" x2="180.00" y2="103.20" stroke="#222" stroke-width="0.65"/>
<line x1="183.54" y1="100.60" x2="183.54" y2="102.10" stroke="#222" stroke-width="0.65"/>
<line x1="185.60" y1="100.60" x2="185.60" y2="102.10" stroke="#222" stroke-width="0.65"/>
<line x1="187.07" y1="100.60" x2="187.07" y2="102.10" stroke="#222" stroke-width="0.65"/>
<line x1="188.21" y1="100.60" x2="188.21" y2="102.10" stroke="#222" stroke-width="0.65"/>
<line x1="189.14" y1="100.60" x2="189.14" y2="102.10" stroke="#222" stroke-width="0.65"/>
<line x1="189.92" y1="100.60" x2="189.92" y2="102.10" stroke="#222" stroke-width="0.65"/>
<line x1="190.61" y1="100.60" x2="190.61" y2="102.10" stroke="#222" stroke-width="0.65"/>
<line x1="191.21" y1="100.60" x2="191.21" y2="102.10" stroke="#222" stroke-width="0.65"/>
<line x1="191.74" y1="100.60" x2="191.74" y2="103.20" stroke="#222" stroke-width="0.65"/>
<line x1="195.28" y1="100.60" x2="195.28" y2="102.10" stroke="#222" stroke-width="0.65"/>
<line x1="197.35" y1="100.60" x2="197.35" y2="102.10" stroke="#222" stroke-width="0.65"/>
<line x1="198.81" y1="100.60" x2="198.81" y2="102.10" stroke="#222" stroke-width="0.65"/>
<line x1="199.95" y1="100.60" x2="199.95" y2="102.10" stroke="#222" stroke-width="0.65"/>
<line x1="200.88" y1="100.60" x2="200.88" y2="102.10" stroke="#222" stroke-width="0.65"/>
<line x1="201.67" y1="100.60" x2="201.67" y2="102.10" stroke="#222" stroke-width="0.65"/>
<line x1="202.35" y1="100.60" x2="202.35" y2="102.10" stroke="#222" stroke-width="0.65"/>
<line x1="202.95" y1="100.60" x2="202.95" y2="102.10" stroke="#222" stroke-width="0.65"/>
<line x1="203.49" y1="100.60" x2="203.49" y2="103.20" stroke="#222" stroke-width="0.65"/>
<line x1="207.02" y1="100.60" x2="207.02" y2="102.10" stroke="#222" stroke-width="0.65"/>
<line x1="209.09" y1="100.60" x2="209.09" y2="102.10" stroke="#222" stroke-width="0.65"/>
<line x1="210.56" y1="100.60" x2="210.56" y2="102.10" stroke="#222" stroke-width="0.65"/>
<line x1="211.70" y1="100.60" x2="211.70" y2="102.10" stroke="#222" stroke-width="0.65"/>
<line x1="212.63" y1="100.60" x2="212.63" y2="102.10" stroke="#222" stroke-width="0.65"/>
<line x1="213.41" y1="100.60" x2="213.41" y2="102.10" stroke="#222" stroke-width="0.65"/>
<line x1="214.09" y1="100.60" x2="214.09" y2="102.10" stroke="#222" stroke-width="0.65"/>
<line x1="214.70" y1="100.60" x2="214.70" y2="102.10" stroke="#222" stroke-width="0.65"/>
<line x1="215.23" y1="100.60" x2="215.23" y2="103.20" stroke="#222" stroke-width="0.65"/>
<line x1="218.77" y1="100.60" x2="218.77" y2="102.10" stroke="#222" stroke-width="0.65"/>
<line x1="220.84" y1="100.60" x2="220.84" y2="102.10" stroke="#222" stroke-width="0.65"/>
<line x1="222.30" y1="100.60" x2="222.30" y2="102.10" stroke="#222" stroke-width="0.65"/>
<line x1="223.44" y1="100.60" x2="223.44" y2="102.10" stroke="#222" stroke-width="0.65"/>
<line x1="224.37" y1="100.60" x2="224.37" y2="102.10" stroke="#222" stroke-width="0.65"/>
<line x1="225.16" y1="100.60" x2="225.16" y2="102.10" stroke="#222" stroke-width="0.65"/>
<line x1="225.84" y1="100.60" x2="225.84" y2="102.10" stroke="#222" stroke-width="0.65"/>
<line x1="226.44" y1="100.60" x2="226.44" y2="102.10" stroke="#222" stroke-width="0.65"/>
<line x1="226.98" y1="100.60" x2="226.98" y2="103.20" stroke="#222" stroke-width="0.65"/>
<line x1="178.00" y1="33.00" x2="178.00" y2="101.00" stroke="#222" stroke-width="0.85"/>
<line x1="177.60" y1="100.60" x2="228.50" y2="100.60" stroke="#222" stroke-width="0.9"/>
<text x="198.80" y="47.00" font-size="7.2" textLength="21.30" lengthAdjust="spacingAndGlyphs" fill="#3e3e3e" stroke="#3e3e3e" stroke-width="0.12">Control</text>
<path d="M234.00,100.60 L234.00,98.00 L236.00,95.00 L238.50,90.00 L241.00,80.00 L243.00,70.00 L244.90,60.00 L246.20,50.00 L247.20,42.00 L247.60,40.00 L248.30,44.00 L249.00,42.00 L250.30,40.80 L251.00,44.00 L252.00,47.00 L253.00,47.50 L254.20,48.50 L255.30,51.50 L256.20,60.00 L257.00,75.00 L257.80,90.00 L258.80,98.00 L260.00,100.60" fill="#acd8f0" stroke="none" stroke-width="0.8" />
<path d="M234.00,100.60 L234.00,100.27 L234.23,100.21 L234.47,100.15 L234.70,100.09 L234.93,100.01 L235.17,99.92 L235.40,99.82 L235.63,99.71 L235.87,99.58 L236.10,99.44 L236.33,99.28 L236.57,99.10 L236.80,98.89 L237.03,98.67 L237.27,98.42 L237.50,98.13 L237.73,97.82 L237.97,97.48 L238.20,97.10 L238.43,96.67 L238.67,96.21 L238.90,95.70 L239.13,95.14 L239.37,94.54 L239.60,93.87 L239.83,93.15 L240.07,92.37 L240.30,91.53 L240.53,90.61 L240.77,89.63 L241.00,88.58 L241.23,87.46 L241.47,86.27 L241.70,84.99 L241.93,83.65 L242.17,82.23 L242.40,80.73 L242.63,79.17 L242.87,77.54 L243.10,75.84 L243.33,74.08 L243.57,72.27 L243.80,70.41 L244.03,68.52 L244.27,66.60 L244.50,64.66 L244.73,62.72 L244.97,60.79 L245.20,58.88 L245.43,57.02 L245.67,55.23 L245.90,53.52 L246.13,51.92 L246.37,50.46 L246.60,49.16 L246.83,48.07 L247.07,47.22 L247.30,46.68 L247.53,46.86 L247.77,47.95 L248.00,49.60 L248.23,51.65 L248.47,54.01 L248.70,56.59 L248.93,59.33 L249.17,62.15 L249.40,65.00 L249.63,67.84 L249.87,70.63 L250.10,73.34 L250.33,75.94 L250.57,78.41 L250.80,80.73 L251.03,82.91 L251.27,84.92 L251.50,86.77 L251.73,88.46 L251.97,89.99 L252.20,91.37 L252.43,92.61 L252.67,93.71 L252.90,94.68 L253.13,95.54 L253.37,96.30 L253.60,96.95 L253.83,97.52 L254.07,98.01 L254.30,98.43 L254.53,98.79 L254.77,99.10 L255.00,99.36 L255.23,99.57 L255.47,99.76 L255.70,99.91 L255.93,100.04 L256.17,100.14 L256.40,100.23 L256.63,100.30 L256.87,100.36 L257.10,100.41 L257.33,100.45 L257.57,100.48 L257.80,100.50 L258.03,100.52 L258.27,100.54 L258.50,100.55 L258.73,100.56 L258.97,100.57 L259.20,100.58 L259.43,100.58 L259.67,100.59 L259.90,100.59 L260.13,100.59 L260.37,100.59 L260.60,100.60 L260.83,100.60 L261.07,100.60 L261.30,100.60 L261.53,100.60 L261.77,100.60 L262.00,100.60 L262.00,100.60" fill="#bc7486" stroke="none" stroke-width="0.8" fill-opacity="0.95"/>
<path d="M234.00,98.00 L236.00,95.00 L238.50,90.00 L241.00,80.00 L243.00,70.00 L244.90,60.00 L246.20,50.00 L247.20,42.00 L247.60,40.00 L248.30,44.00 L249.00,42.00 L250.30,40.80 L251.00,44.00 L252.00,47.00 L253.00,47.50 L254.20,48.50 L255.30,51.50 L256.20,60.00 L257.00,75.00 L257.80,90.00 L258.80,98.00" fill="none" stroke="#2a9dcc" stroke-width="0.9" />
<line x1="231.50" y1="100.60" x2="234.00" y2="100.60" stroke="#2a2a2a" stroke-width="0.6"/>
<line x1="232.50" y1="98.18" x2="234.00" y2="98.18" stroke="#2a2a2a" stroke-width="0.6"/>
<line x1="232.50" y1="95.76" x2="234.00" y2="95.76" stroke="#2a2a2a" stroke-width="0.6"/>
<line x1="232.50" y1="93.34" x2="234.00" y2="93.34" stroke="#2a2a2a" stroke-width="0.6"/>
<line x1="232.50" y1="90.92" x2="234.00" y2="90.92" stroke="#2a2a2a" stroke-width="0.6"/>
<line x1="231.50" y1="88.50" x2="234.00" y2="88.50" stroke="#2a2a2a" stroke-width="0.6"/>
<line x1="232.50" y1="86.08" x2="234.00" y2="86.08" stroke="#2a2a2a" stroke-width="0.6"/>
<line x1="232.50" y1="83.66" x2="234.00" y2="83.66" stroke="#2a2a2a" stroke-width="0.6"/>
<line x1="232.50" y1="81.24" x2="234.00" y2="81.24" stroke="#2a2a2a" stroke-width="0.6"/>
<line x1="232.50" y1="78.82" x2="234.00" y2="78.82" stroke="#2a2a2a" stroke-width="0.6"/>
<line x1="231.50" y1="76.40" x2="234.00" y2="76.40" stroke="#2a2a2a" stroke-width="0.6"/>
<line x1="232.50" y1="73.98" x2="234.00" y2="73.98" stroke="#2a2a2a" stroke-width="0.6"/>
<line x1="232.50" y1="71.56" x2="234.00" y2="71.56" stroke="#2a2a2a" stroke-width="0.6"/>
<line x1="232.50" y1="69.14" x2="234.00" y2="69.14" stroke="#2a2a2a" stroke-width="0.6"/>
<line x1="232.50" y1="66.72" x2="234.00" y2="66.72" stroke="#2a2a2a" stroke-width="0.6"/>
<line x1="231.50" y1="64.30" x2="234.00" y2="64.30" stroke="#2a2a2a" stroke-width="0.6"/>
<line x1="232.50" y1="61.88" x2="234.00" y2="61.88" stroke="#2a2a2a" stroke-width="0.6"/>
<line x1="232.50" y1="59.46" x2="234.00" y2="59.46" stroke="#2a2a2a" stroke-width="0.6"/>
<line x1="232.50" y1="57.04" x2="234.00" y2="57.04" stroke="#2a2a2a" stroke-width="0.6"/>
<line x1="232.50" y1="54.62" x2="234.00" y2="54.62" stroke="#2a2a2a" stroke-width="0.6"/>
<line x1="231.50" y1="52.20" x2="234.00" y2="52.20" stroke="#2a2a2a" stroke-width="0.6"/>
<line x1="232.50" y1="49.78" x2="234.00" y2="49.78" stroke="#2a2a2a" stroke-width="0.6"/>
<line x1="232.50" y1="47.36" x2="234.00" y2="47.36" stroke="#2a2a2a" stroke-width="0.6"/>
<line x1="232.50" y1="44.94" x2="234.00" y2="44.94" stroke="#2a2a2a" stroke-width="0.6"/>
<line x1="232.50" y1="42.52" x2="234.00" y2="42.52" stroke="#2a2a2a" stroke-width="0.6"/>
<line x1="231.50" y1="40.10" x2="234.00" y2="40.10" stroke="#2a2a2a" stroke-width="0.6"/>
<line x1="232.50" y1="37.68" x2="234.00" y2="37.68" stroke="#2a2a2a" stroke-width="0.6"/>
<line x1="232.50" y1="35.26" x2="234.00" y2="35.26" stroke="#2a2a2a" stroke-width="0.6"/>
<line x1="236.00" y1="100.60" x2="236.00" y2="103.20" stroke="#222" stroke-width="0.65"/>
<line x1="239.54" y1="100.60" x2="239.54" y2="102.10" stroke="#222" stroke-width="0.65"/>
<line x1="241.61" y1="100.60" x2="241.61" y2="102.10" stroke="#222" stroke-width="0.65"/>
<line x1="243.08" y1="100.60" x2="243.08" y2="102.10" stroke="#222" stroke-width="0.65"/>
<line x1="244.23" y1="100.60" x2="244.23" y2="102.10" stroke="#222" stroke-width="0.65"/>
<line x1="245.16" y1="100.60" x2="245.16" y2="102.10" stroke="#222" stroke-width="0.65"/>
<line x1="245.94" y1="100.60" x2="245.94" y2="102.10" stroke="#222" stroke-width="0.65"/>
<line x1="246.63" y1="100.60" x2="246.63" y2="102.10" stroke="#222" stroke-width="0.65"/>
<line x1="247.23" y1="100.60" x2="247.23" y2="102.10" stroke="#222" stroke-width="0.65"/>
<line x1="247.77" y1="100.60" x2="247.77" y2="103.20" stroke="#222" stroke-width="0.65"/>
<line x1="251.31" y1="100.60" x2="251.31" y2="102.10" stroke="#222" stroke-width="0.65"/>
<line x1="253.38" y1="100.60" x2="253.38" y2="102.10" stroke="#222" stroke-width="0.65"/>
<line x1="254.85" y1="100.60" x2="254.85" y2="102.10" stroke="#222" stroke-width="0.65"/>
<line x1="255.99" y1="100.60" x2="255.99" y2="102.10" stroke="#222" stroke-width="0.65"/>
<line x1="256.92" y1="100.60" x2="256.92" y2="102.10" stroke="#222" stroke-width="0.65"/>
<line x1="257.71" y1="100.60" x2="257.71" y2="102.10" stroke="#222" stroke-width="0.65"/>
<line x1="258.39" y1="100.60" x2="258.39" y2="102.10" stroke="#222" stroke-width="0.65"/>
<line x1="259.00" y1="100.60" x2="259.00" y2="102.10" stroke="#222" stroke-width="0.65"/>
<line x1="259.53" y1="100.60" x2="259.53" y2="103.20" stroke="#222" stroke-width="0.65"/>
<line x1="263.08" y1="100.60" x2="263.08" y2="102.10" stroke="#222" stroke-width="0.65"/>
<line x1="265.15" y1="100.60" x2="265.15" y2="102.10" stroke="#222" stroke-width="0.65"/>
<line x1="266.62" y1="100.60" x2="266.62" y2="102.10" stroke="#222" stroke-width="0.65"/>
<line x1="267.76" y1="100.60" x2="267.76" y2="102.10" stroke="#222" stroke-width="0.65"/>
<line x1="268.69" y1="100.60" x2="268.69" y2="102.10" stroke="#222" stroke-width="0.65"/>
<line x1="269.48" y1="100.60" x2="269.48" y2="102.10" stroke="#222" stroke-width="0.65"/>
<line x1="270.16" y1="100.60" x2="270.16" y2="102.10" stroke="#222" stroke-width="0.65"/>
<line x1="270.76" y1="100.60" x2="270.76" y2="102.10" stroke="#222" stroke-width="0.65"/>
<line x1="271.30" y1="100.60" x2="271.30" y2="103.20" stroke="#222" stroke-width="0.65"/>
<line x1="274.84" y1="100.60" x2="274.84" y2="102.10" stroke="#222" stroke-width="0.65"/>
<line x1="276.92" y1="100.60" x2="276.92" y2="102.10" stroke="#222" stroke-width="0.65"/>
<line x1="278.39" y1="100.60" x2="278.39" y2="102.10" stroke="#222" stroke-width="0.65"/>
<line x1="279.53" y1="100.60" x2="279.53" y2="102.10" stroke="#222" stroke-width="0.65"/>
<line x1="280.46" y1="100.60" x2="280.46" y2="102.10" stroke="#222" stroke-width="0.65"/>
<line x1="281.25" y1="100.60" x2="281.25" y2="102.10" stroke="#222" stroke-width="0.65"/>
<line x1="281.93" y1="100.60" x2="281.93" y2="102.10" stroke="#222" stroke-width="0.65"/>
<line x1="282.53" y1="100.60" x2="282.53" y2="102.10" stroke="#222" stroke-width="0.65"/>
<line x1="283.07" y1="100.60" x2="283.07" y2="103.20" stroke="#222" stroke-width="0.65"/>
<line x1="234.00" y1="33.00" x2="234.00" y2="101.00" stroke="#222" stroke-width="0.85"/>
<line x1="233.60" y1="100.60" x2="284.60" y2="100.60" stroke="#222" stroke-width="0.9"/>
<text x="259.00" y="42.80" font-size="7" textLength="27.60" lengthAdjust="spacingAndGlyphs" fill="#3e3e3e" stroke="#3e3e3e" stroke-width="0.12">mutCALR</text>
<text x="259.00" y="50.40" font-size="7" textLength="32.50" lengthAdjust="spacingAndGlyphs" fill="#3e3e3e" stroke="#3e3e3e" stroke-width="0.12">ID: 109647</text>
<text x="182.00" y="113.50" font-size="7.6" textLength="27.40" lengthAdjust="spacingAndGlyphs" fill="#3e3e3e" stroke="#3e3e3e" stroke-width="0.12">mutCALR</text>
<line x1="213.00" y1="110.40" x2="280.00" y2="110.40" stroke="#333" stroke-width="0.75"/>
<path d="M283.50,110.40 L279.30,108.60 L279.30,112.20 Z" fill="#333" stroke="none" stroke-width="0.8" />
<rect x="190.90" y="119.40" width="4.90" height="5.00" fill="#c0102a" />
<text x="198.80" y="123.90" font-size="7" textLength="21.30" lengthAdjust="spacingAndGlyphs" fill="#3e3e3e" stroke="#3e3e3e" stroke-width="0.12">Isotype</text>
<rect x="227.00" y="119.40" width="5.00" height="5.00" fill="#2a9fd8" />
<text x="235.00" y="123.90" font-size="7" textLength="28.00" lengthAdjust="spacingAndGlyphs" fill="#3e3e3e" stroke="#3e3e3e" stroke-width="0.12">mutCALR</text>
<text x="306.40" y="16.80" font-size="11" font-weight="bold" fill="#111">C</text>
<line x1="339.75" y1="25.00" x2="339.75" y2="100.90" stroke="#1a1a1a" stroke-width="1.1"/>
<line x1="339.20" y1="100.40" x2="437.00" y2="100.40" stroke="#1a1a1a" stroke-width="1.1"/>
<line x1="337.20" y1="100.40" x2="339.75" y2="100.40" stroke="#222" stroke-width="0.8"/>
<text x="333.60" y="102.70" font-size="6.6" text-anchor="end" fill="#3e3e3e" stroke="#3e3e3e" stroke-width="0.12">0</text>
<line x1="337.20" y1="75.95" x2="339.75" y2="75.95" stroke="#222" stroke-width="0.8"/>
<text x="333.60" y="78.25" font-size="6.6" text-anchor="end" fill="#3e3e3e" stroke="#3e3e3e" stroke-width="0.12">1</text>
<line x1="337.20" y1="51.50" x2="339.75" y2="51.50" stroke="#222" stroke-width="0.8"/>
<text x="333.60" y="53.80" font-size="6.6" text-anchor="end" fill="#3e3e3e" stroke="#3e3e3e" stroke-width="0.12">2</text>
<line x1="337.20" y1="27.05" x2="339.75" y2="27.05" stroke="#222" stroke-width="0.8"/>
<text x="333.60" y="29.35" font-size="6.6" text-anchor="end" fill="#3e3e3e" stroke="#3e3e3e" stroke-width="0.12">3</text>
<line x1="354.00" y1="100.40" x2="354.00" y2="102.80" stroke="#222" stroke-width="0.8"/>
<line x1="388.10" y1="100.40" x2="388.10" y2="102.80" stroke="#222" stroke-width="0.8"/>
<line x1="422.30" y1="100.40" x2="422.30" y2="102.80" stroke="#222" stroke-width="0.8"/>
<text x="354.30" y="112.10" font-size="7" text-anchor="middle" textLength="12.40" lengthAdjust="spacingAndGlyphs" fill="#3e3e3e" stroke="#3e3e3e" stroke-width="0.12">HSC</text>
<text x="388.20" y="112.10" font-size="7" text-anchor="middle" textLength="16.20" lengthAdjust="spacingAndGlyphs" fill="#3e3e3e" stroke="#3e3e3e" stroke-width="0.12">HSPC</text>
<text x="422.40" y="112.10" font-size="7" text-anchor="middle" textLength="12.60" lengthAdjust="spacingAndGlyphs" fill="#3e3e3e" stroke="#3e3e3e" stroke-width="0.12">MkP</text>
<text x="313.90" y="94.40" font-size="8.6" textLength="63.80" lengthAdjust="spacingAndGlyphs" fill="#3e3e3e" stroke="#3e3e3e" stroke-width="0.12" transform="rotate(-90 313.90 94.40)">Normalized mutCALR</text>
<text x="323.30" y="78.80" font-size="8.6" textLength="31.90" lengthAdjust="spacingAndGlyphs" fill="#3e3e3e" stroke="#3e3e3e" stroke-width="0.12" transform="rotate(-90 323.30 78.80)">expression</text>
<line x1="343.80" y1="75.95" x2="351.90" y2="75.95" stroke="#8a0a20" stroke-width="2.6"/>
<line x1="377.70" y1="75.95" x2="385.80" y2="75.95" stroke="#8a0a20" stroke-width="2.6"/>
<line x1="411.80" y1="75.95" x2="419.60" y2="75.95" stroke="#8a0a20" stroke-width="2.6"/>
<circle cx="360.40" cy="42.10" r="1.65" fill="#2aa3c8" stroke="none" stroke-width="0.8"/>
<circle cx="357.30" cy="61.50" r="1.65" fill="#2aa3c8" stroke="none" stroke-width="0.8"/>
<circle cx="363.40" cy="59.30" r="1.65" fill="#2aa3c8" stroke="none" stroke-width="0.8"/>
<circle cx="357.30" cy="66.40" r="1.65" fill="#2aa3c8" stroke="none" stroke-width="0.8"/>
<circle cx="363.40" cy="69.00" r="1.65" fill="#2aa3c8" stroke="none" stroke-width="0.8"/>
<circle cx="357.30" cy="71.40" r="1.65" fill="#2aa3c8" stroke="none" stroke-width="0.8"/>
<circle cx="394.50" cy="34.70" r="1.65" fill="#2aa3c8" stroke="none" stroke-width="0.8"/>
<circle cx="391.60" cy="56.30" r="1.65" fill="#2aa3c8" stroke="none" stroke-width="0.8"/>
<circle cx="397.40" cy="54.60" r="1.65" fill="#2aa3c8" stroke="none" stroke-width="0.8"/>
<circle cx="394.50" cy="62.40" r="1.65" fill="#2aa3c8" stroke="none" stroke-width="0.8"/>
<circle cx="391.60" cy="66.40" r="1.65" fill="#2aa3c8" stroke="none" stroke-width="0.8"/>
<circle cx="397.40" cy="65.80" r="1.65" fill="#2aa3c8" stroke="none" stroke-width="0.8"/>
<circle cx="428.40" cy="35.00" r="1.65" fill="#2aa3c8" stroke="none" stroke-width="0.8"/>
<circle cx="425.80" cy="54.60" r="1.65" fill="#2aa3c8" stroke="none" stroke-width="0.8"/>
<circle cx="431.60" cy="54.60" r="1.65" fill="#2aa3c8" stroke="none" stroke-width="0.8"/>
<circle cx="425.80" cy="66.20" r="1.65" fill="#2aa3c8" stroke="none" stroke-width="0.8"/>
<circle cx="431.60" cy="68.50" r="1.65" fill="#2aa3c8" stroke="none" stroke-width="0.8"/>
<circle cx="428.40" cy="74.20" r="1.65" fill="#2aa3c8" stroke="none" stroke-width="0.8"/>
<line x1="356.40" y1="64.10" x2="364.60" y2="64.10" stroke="#0d2a3d" stroke-width="1.25"/>
<line x1="390.50" y1="58.40" x2="398.50" y2="58.40" stroke="#0d2a3d" stroke-width="1.25"/>
<line x1="425.00" y1="63.80" x2="433.00" y2="63.80" stroke="#0d2a3d" stroke-width="1.25"/>
<text x="449.80" y="43.00" font-size="6.8" textLength="30.00" lengthAdjust="spacingAndGlyphs" fill="#3e3e3e" stroke="#3e3e3e" stroke-width="0.12">Patient ID:</text>
<text x="443.90" y="53.00" font-size="6.8" textLength="17.90" lengthAdjust="spacingAndGlyphs" fill="#3e3e3e" stroke="#3e3e3e" stroke-width="0.12">A4204</text>
<text x="468.60" y="53.00" font-size="6.8" textLength="18.70" lengthAdjust="spacingAndGlyphs" fill="#3e3e3e" stroke="#3e3e3e" stroke-width="0.12">A7545</text>
<text x="443.90" y="63.00" font-size="6.8" textLength="20.80" lengthAdjust="spacingAndGlyphs" fill="#3e3e3e" stroke="#3e3e3e" stroke-width="0.12">114180</text>
<text x="468.60" y="63.00" font-size="6.8" textLength="21.20" lengthAdjust="spacingAndGlyphs" fill="#3e3e3e" stroke="#3e3e3e" stroke-width="0.12">109647</text>
<text x="443.90" y="73.00" font-size="6.8" textLength="20.80" lengthAdjust="spacingAndGlyphs" fill="#3e3e3e" stroke="#3e3e3e" stroke-width="0.12">118498</text>
<text x="468.60" y="73.00" font-size="6.8" textLength="21.60" lengthAdjust="spacingAndGlyphs" fill="#3e3e3e" stroke="#3e3e3e" stroke-width="0.12">117322</text>
<text x="443.90" y="83.00" font-size="6.8" textLength="18.50" lengthAdjust="spacingAndGlyphs" fill="#3e3e3e" stroke="#3e3e3e" stroke-width="0.12">A4526</text>
<path d="M355.40,118.20 L357.70,122.30 L353.10,122.30 Z" fill="#b0142a" stroke="none" stroke-width="0.8" />
<text x="360.80" y="122.60" font-size="7" textLength="20.50" lengthAdjust="spacingAndGlyphs" fill="#3e3e3e" stroke="#3e3e3e" stroke-width="0.12">Isotype</text>
<circle cx="390.40" cy="120.40" r="2.00" fill="#2aa3c8" stroke="none" stroke-width="0.8"/>
<text x="395.80" y="122.60" font-size="7" textLength="27.20" lengthAdjust="spacingAndGlyphs" fill="#3e3e3e" stroke="#3e3e3e" stroke-width="0.12">mutCALR</text>
<text x="8.30" y="150.70" font-size="11" font-weight="bold" fill="#111">D</text>
<text x="13.20" y="165.60" font-size="6.3" textLength="44.20" lengthAdjust="spacingAndGlyphs" fill="#3e3e3e" stroke="#3e3e3e" stroke-width="0.12">mutCALR CD34</text>
<line x1="57.90" y1="162.00" x2="60.10" y2="162.00" stroke="#3e3e3e" stroke-width="0.55"/>
<line x1="59.00" y1="160.90" x2="59.00" y2="163.10" stroke="#3e3e3e" stroke-width="0.55"/>
<text x="61.40" y="165.60" font-size="6.3" textLength="52.90" lengthAdjust="spacingAndGlyphs" fill="#3e3e3e" stroke="#3e3e3e" stroke-width="0.12">cells (ID: 109647)</text>
<path d="M8.20,174.20 L8.20,170.40 L119.20,170.40 L119.20,174.20" fill="none" stroke="#333" stroke-width="0.9" />
<text x="162.10" y="165.60" font-size="6.3" textLength="23.70" lengthAdjust="spacingAndGlyphs" fill="#3e3e3e" stroke="#3e3e3e" stroke-width="0.12">wtCD34</text>
<line x1="186.60" y1="162.00" x2="188.80" y2="162.00" stroke="#3e3e3e" stroke-width="0.55"/>
<line x1="187.70" y1="160.90" x2="187.70" y2="163.10" stroke="#3e3e3e" stroke-width="0.55"/>
<text x="190.70" y="165.60" font-size="6.3" textLength="12.50" lengthAdjust="spacingAndGlyphs" fill="#3e3e3e" stroke="#3e3e3e" stroke-width="0.12">cells</text>
<path d="M128.80,174.20 L128.80,170.40 L236.40,170.40 L236.40,174.20" fill="none" stroke="#333" stroke-width="0.9" />
<text x="18.40" y="182.00" font-size="6.3" text-anchor="middle" textLength="10.40" lengthAdjust="spacingAndGlyphs" fill="#3e3e3e" stroke="#3e3e3e" stroke-width="0.12">IgG</text>
<text x="40.70" y="182.00" font-size="6.3" text-anchor="middle" textLength="11.80" lengthAdjust="spacingAndGlyphs" fill="#3e3e3e" stroke="#3e3e3e" stroke-width="0.12">1.25</text>
<text x="63.20" y="182.00" font-size="6.3" text-anchor="middle" textLength="8.60" lengthAdjust="spacingAndGlyphs" fill="#3e3e3e" stroke="#3e3e3e" stroke-width="0.12">2.5</text>
<text x="83.30" y="182.00" font-size="6.3" text-anchor="middle" textLength="8.60" lengthAdjust="spacingAndGlyphs" fill="#3e3e3e" stroke="#3e3e3e" stroke-width="0.12">5.0</text>
<text x="108.00" y="182.00" font-size="6.3" text-anchor="middle" textLength="6.40" lengthAdjust="spacingAndGlyphs" fill="#3e3e3e" stroke="#3e3e3e" stroke-width="0.12">10</text>
<text x="137.90" y="182.00" font-size="6.3" text-anchor="middle" textLength="10.40" lengthAdjust="spacingAndGlyphs" fill="#3e3e3e" stroke="#3e3e3e" stroke-width="0.12">IgG</text>
<text x="160.00" y="182.00" font-size="6.3" text-anchor="middle" textLength="11.80" lengthAdjust="spacingAndGlyphs" fill="#3e3e3e" stroke="#3e3e3e" stroke-width="0.12">1.25</text>
<text x="183.00" y="182.00" font-size="6.3" text-anchor="middle" textLength="8.60" lengthAdjust="spacingAndGlyphs" fill="#3e3e3e" stroke="#3e3e3e" stroke-width="0.12">2.5</text>
<text x="203.80" y="182.00" font-size="6.3" text-anchor="middle" textLength="8.60" lengthAdjust="spacingAndGlyphs" fill="#3e3e3e" stroke="#3e3e3e" stroke-width="0.12">5.0</text>
<text x="227.50" y="182.00" font-size="6.3" text-anchor="middle" textLength="6.40" lengthAdjust="spacingAndGlyphs" fill="#3e3e3e" stroke="#3e3e3e" stroke-width="0.12">10</text>
<text x="240.30" y="182.20" font-size="6.3" textLength="18.90" lengthAdjust="spacingAndGlyphs" fill="#3e3e3e" stroke="#3e3e3e" stroke-width="0.12">µg/mL</text>
<rect x="6.30" y="186.00" width="113.30" height="18.40" fill="#a4a4a4" stroke="#3a3a3a" stroke-width="0.9"/>
<rect x="7" y="186.5" width="40" height="8" fill="#949494" fill-opacity="0.6" filter="url(#hb2)"/>
<rect x="12.35" y="192.30" width="14.50" height="2.40" rx="1.20" fill="#1c1c1c" fill-opacity="1" filter="url(#bl)"/>
<rect x="12.35" y="195.15" width="14.50" height="2.30" rx="1.15" fill="#262626" fill-opacity="1" filter="url(#bl)"/>
<rect x="13.60" y="199.30" width="12.00" height="1.40" rx="0.70" fill="#707070" fill-opacity="0.6" filter="url(#bl)"/>
<rect x="33.70" y="192.75" width="14.00" height="3.50" rx="1.75" fill="#8a8a8a" fill-opacity="0.3" filter="url(#bl)"/>
<rect x="56.00" y="192.75" width="14.00" height="3.50" rx="1.75" fill="#8a8a8a" fill-opacity="0.3" filter="url(#bl)"/>
<rect x="78.50" y="192.75" width="14.00" height="3.50" rx="1.75" fill="#8a8a8a" fill-opacity="0.3" filter="url(#bl)"/>
<rect x="100.80" y="192.75" width="14.00" height="3.50" rx="1.75" fill="#8a8a8a" fill-opacity="0.3" filter="url(#bl)"/>
<rect x="6.30" y="208.20" width="113.30" height="19.00" fill="#aeaeae" stroke="#3a3a3a" stroke-width="0.9"/>
<rect x="10.65" y="215.05" width="14.50" height="2.50" rx="1.25" fill="#1e1e1e" fill-opacity="1" filter="url(#bl)"/>
<rect x="10.65" y="218.05" width="14.50" height="2.50" rx="1.25" fill="#1e1e1e" fill-opacity="1" filter="url(#bl)"/>
<rect x="11.40" y="223.50" width="13.00" height="1.40" rx="0.70" fill="#707070" fill-opacity="0.7" filter="url(#bl)"/>
<rect x="33.45" y="215.05" width="14.50" height="2.50" rx="1.25" fill="#1e1e1e" fill-opacity="1" filter="url(#bl)"/>
<rect x="33.45" y="218.05" width="14.50" height="2.50" rx="1.25" fill="#1e1e1e" fill-opacity="1" filter="url(#bl)"/>
<rect x="34.20" y="223.50" width="13.00" height="1.40" rx="0.70" fill="#707070" fill-opacity="0.7" filter="url(#bl)"/>
<rect x="55.75" y="215.05" width="14.50" height="2.50" rx="1.25" fill="#1e1e1e" fill-opacity="1" filter="url(#bl)"/>
<rect x="55.75" y="218.05" width="14.50" height="2.50" rx="1.25" fill="#1e1e1e" fill-opacity="1" filter="url(#bl)"/>
<rect x="56.50" y="223.50" width="13.00" height="1.40" rx="0.70" fill="#707070" fill-opacity="0.7" filter="url(#bl)"/>
<rect x="78.60" y="215.25" width="13.80" height="2.10" rx="1.05" fill="#383838" fill-opacity="1" filter="url(#bl)"/>
<rect x="78.60" y="218.25" width="13.80" height="2.10" rx="1.05" fill="#383838" fill-opacity="1" filter="url(#bl)"/>
<rect x="79.35" y="223.50" width="12.30" height="1.40" rx="0.70" fill="#707070" fill-opacity="0.7" filter="url(#bl)"/>
<rect x="101.10" y="215.40" width="13.40" height="1.80" rx="0.90" fill="#4a4a4a" fill-opacity="1" filter="url(#bl)"/>
<rect x="101.10" y="218.40" width="13.40" height="1.80" rx="0.90" fill="#4a4a4a" fill-opacity="1" filter="url(#bl)"/>
<rect x="101.85" y="223.50" width="11.90" height="1.40" rx="0.70" fill="#707070" fill-opacity="0.7" filter="url(#bl)"/>
<rect x="6.30" y="230.90" width="113.30" height="17.90" fill="#a8a8a8" stroke="#3a3a3a" stroke-width="0.9"/>
<rect x="12.35" y="237.50" width="14.50" height="2.00" rx="1.00" fill="#2a2a2a" fill-opacity="1" filter="url(#bl)"/>
<rect x="6.30" y="252.60" width="113.30" height="27.60" fill="#d8d8d8" stroke="#3a3a3a" stroke-width="0.9"/>
<rect x="25.30" y="253.60" width="8" height="25.60" fill="#e8e8e8" fill-opacity="0.8" filter="url(#hb2)"/>
<rect x="47.90" y="253.60" width="8" height="25.60" fill="#e8e8e8" fill-opacity="0.8" filter="url(#hb2)"/>
<rect x="70.20" y="253.60" width="8" height="25.60" fill="#e8e8e8" fill-opacity="0.8" filter="url(#hb2)"/>
<rect x="92.60" y="253.60" width="8" height="25.60" fill="#e8e8e8" fill-opacity="0.8" filter="url(#hb2)"/>
<path d="M8.90,266.70 C8.90,265.09 10.48,264.40 12.86,264.40 L22.94,264.40 C25.32,264.40 26.90,265.09 26.90,266.70 C26.90,268.31 25.32,269.00 22.94,269.00 L12.86,269.00 C10.48,269.00 8.90,268.31 8.90,266.70 Z" fill="#0e0e0e" fill-opacity="1" filter="url(#bl)"/>
<rect x="9.65" y="274.30" width="16.50" height="2.20" rx="1.10" fill="#8a8a8a" fill-opacity="0.85" filter="url(#bl)"/>
<path d="M31.70,266.70 C31.70,265.09 33.28,264.40 35.66,264.40 L45.74,264.40 C48.12,264.40 49.70,265.09 49.70,266.70 C49.70,268.31 48.12,269.00 45.74,269.00 L35.66,269.00 C33.28,269.00 31.70,268.31 31.70,266.70 Z" fill="#0e0e0e" fill-opacity="1" filter="url(#bl)"/>
<rect x="32.45" y="274.30" width="16.50" height="2.20" rx="1.10" fill="#8a8a8a" fill-opacity="0.85" filter="url(#bl)"/>
<path d="M54.00,266.70 C54.00,265.09 55.58,264.40 57.96,264.40 L68.04,264.40 C70.42,264.40 72.00,265.09 72.00,266.70 C72.00,268.31 70.42,269.00 68.04,269.00 L57.96,269.00 C55.58,269.00 54.00,268.31 54.00,266.70 Z" fill="#0e0e0e" fill-opacity="1" filter="url(#bl)"/>
<rect x="54.75" y="274.30" width="16.50" height="2.20" rx="1.10" fill="#8a8a8a" fill-opacity="0.85" filter="url(#bl)"/>
<path d="M76.50,266.70 C76.50,265.09 78.08,264.40 80.46,264.40 L90.54,264.40 C92.92,264.40 94.50,265.09 94.50,266.70 C94.50,268.31 92.92,269.00 90.54,269.00 L80.46,269.00 C78.08,269.00 76.50,268.31 76.50,266.70 Z" fill="#0e0e0e" fill-opacity="1" filter="url(#bl)"/>
<rect x="77.25" y="274.30" width="16.50" height="2.20" rx="1.10" fill="#8a8a8a" fill-opacity="0.85" filter="url(#bl)"/>
<path d="M100.30,266.70 C100.30,265.58 101.62,265.10 103.60,265.10 L112.00,265.10 C113.98,265.10 115.30,265.58 115.30,266.70 C115.30,267.82 113.98,268.30 112.00,268.30 L103.60,268.30 C101.62,268.30 100.30,267.82 100.30,266.70 Z" fill="#0e0e0e" fill-opacity="1" filter="url(#bl)"/>
<rect x="101.05" y="274.30" width="13.50" height="2.20" rx="1.10" fill="#8a8a8a" fill-opacity="0.85" filter="url(#bl)"/>
<rect x="6.30" y="284.70" width="113.30" height="19.30" fill="#eeeeee" stroke="#3a3a3a" stroke-width="0.9"/>
<path d="M8.50,298.00 C8.50,296.67 10.26,296.10 12.90,296.10 L24.10,296.10 C26.74,296.10 28.50,296.67 28.50,298.00 C28.50,299.33 26.74,299.90 24.10,299.90 L12.90,299.90 C10.26,299.90 8.50,299.33 8.50,298.00 Z" fill="#101010" fill-opacity="1" filter="url(#bl)"/>
<path d="M31.30,298.00 C31.30,296.67 33.06,296.10 35.70,296.10 L46.90,296.10 C49.54,296.10 51.30,296.67 51.30,298.00 C51.30,299.33 49.54,299.90 46.90,299.90 L35.70,299.90 C33.06,299.90 31.30,299.33 31.30,298.00 Z" fill="#101010" fill-opacity="1" filter="url(#bl)"/>
<path d="M53.60,298.00 C53.60,296.67 55.36,296.10 58.00,296.10 L69.20,296.10 C71.84,296.10 73.60,296.67 73.60,298.00 C73.60,299.33 71.84,299.90 69.20,299.90 L58.00,299.90 C55.36,299.90 53.60,299.33 53.60,298.00 Z" fill="#101010" fill-opacity="1" filter="url(#bl)"/>
<path d="M76.10,298.00 C76.10,296.67 77.86,296.10 80.50,296.10 L91.70,296.10 C94.34,296.10 96.10,296.67 96.10,298.00 C96.10,299.33 94.34,299.90 91.70,299.90 L80.50,299.90 C77.86,299.90 76.10,299.33 76.10,298.00 Z" fill="#101010" fill-opacity="1" filter="url(#bl)"/>
<path d="M98.40,298.00 C98.40,296.67 100.16,296.10 102.80,296.10 L114.00,296.10 C116.64,296.10 118.40,296.67 118.40,298.00 C118.40,299.33 116.64,299.90 114.00,299.90 L102.80,299.90 C100.16,299.90 98.40,299.33 98.40,298.00 Z" fill="#101010" fill-opacity="1" filter="url(#bl)"/>
<line x1="6.30" y1="185.60" x2="6.30" y2="304.40" stroke="#3a3a3a" stroke-width="1.1"/>
<line x1="119.60" y1="185.60" x2="119.60" y2="304.40" stroke="#3a3a3a" stroke-width="1.1"/>
<rect x="128.10" y="186.40" width="109.10" height="17.90" fill="#a8a8a8" stroke="#3a3a3a" stroke-width="0.9"/>
<rect x="129" y="186.8" width="107" height="4" fill="#989898" fill-opacity="0.6" filter="url(#hb)"/>
<rect x="131.65" y="192.35" width="14.50" height="2.30" rx="1.15" fill="#383838" fill-opacity="1" filter="url(#bl)"/>
<rect x="131.65" y="195.20" width="14.50" height="2.20" rx="1.10" fill="#3a3a3a" fill-opacity="1" filter="url(#bl)"/>
<rect x="153.75" y="192.35" width="14.50" height="2.30" rx="1.15" fill="#383838" fill-opacity="1" filter="url(#bl)"/>
<rect x="153.75" y="195.20" width="14.50" height="2.20" rx="1.10" fill="#3a3a3a" fill-opacity="1" filter="url(#bl)"/>
<rect x="176.35" y="192.35" width="14.50" height="2.30" rx="1.15" fill="#383838" fill-opacity="1" filter="url(#bl)"/>
<rect x="176.35" y="195.20" width="14.50" height="2.20" rx="1.10" fill="#3a3a3a" fill-opacity="1" filter="url(#bl)"/>
<rect x="197.95" y="192.35" width="14.50" height="2.30" rx="1.15" fill="#383838" fill-opacity="1" filter="url(#bl)"/>
<rect x="197.95" y="195.20" width="14.50" height="2.20" rx="1.10" fill="#3a3a3a" fill-opacity="1" filter="url(#bl)"/>
<rect x="219.65" y="192.35" width="14.50" height="2.30" rx="1.15" fill="#383838" fill-opacity="1" filter="url(#bl)"/>
<rect x="219.65" y="195.20" width="14.50" height="2.20" rx="1.10" fill="#3a3a3a" fill-opacity="1" filter="url(#bl)"/>
<rect x="128.10" y="208.10" width="109.10" height="18.70" fill="#b2b2b2" stroke="#3a3a3a" stroke-width="0.9"/>
<rect x="131.65" y="214.95" width="14.50" height="2.70" rx="1.35" fill="#1a1a1a" fill-opacity="1" filter="url(#bl)"/>
<rect x="131.65" y="217.95" width="14.50" height="2.70" rx="1.35" fill="#1c1c1c" fill-opacity="1" filter="url(#bl)"/>
<rect x="153.75" y="214.95" width="14.50" height="2.70" rx="1.35" fill="#1a1a1a" fill-opacity="1" filter="url(#bl)"/>
<rect x="153.75" y="217.95" width="14.50" height="2.70" rx="1.35" fill="#1c1c1c" fill-opacity="1" filter="url(#bl)"/>
<rect x="176.35" y="214.95" width="14.50" height="2.70" rx="1.35" fill="#1a1a1a" fill-opacity="1" filter="url(#bl)"/>
<rect x="176.35" y="217.95" width="14.50" height="2.70" rx="1.35" fill="#1c1c1c" fill-opacity="1" filter="url(#bl)"/>
<rect x="197.95" y="214.95" width="14.50" height="2.70" rx="1.35" fill="#1a1a1a" fill-opacity="1" filter="url(#bl)"/>
<rect x="197.95" y="217.95" width="14.50" height="2.70" rx="1.35" fill="#1c1c1c" fill-opacity="1" filter="url(#bl)"/>
<rect x="219.65" y="214.95" width="14.50" height="2.70" rx="1.35" fill="#1a1a1a" fill-opacity="1" filter="url(#bl)"/>
<rect x="219.65" y="217.95" width="14.50" height="2.70" rx="1.35" fill="#1c1c1c" fill-opacity="1" filter="url(#bl)"/>
<rect x="128.10" y="232.40" width="109.10" height="19.00" fill="#b4b4b4" stroke="#3a3a3a" stroke-width="0.9"/>
<rect x="132.15" y="239.45" width="13.50" height="2.30" rx="1.15" fill="#353535" fill-opacity="1" filter="url(#bl)"/>
<rect x="154.25" y="239.45" width="13.50" height="2.30" rx="1.15" fill="#353535" fill-opacity="1" filter="url(#bl)"/>
<rect x="176.85" y="239.45" width="13.50" height="2.30" rx="1.15" fill="#353535" fill-opacity="1" filter="url(#bl)"/>
<rect x="198.45" y="239.45" width="13.50" height="2.30" rx="1.15" fill="#353535" fill-opacity="1" filter="url(#bl)"/>
<rect x="220.15" y="239.45" width="13.50" height="2.30" rx="1.15" fill="#353535" fill-opacity="1" filter="url(#bl)"/>
<rect x="128.10" y="255.60" width="109.10" height="25.00" fill="#f0f0f0" stroke="#3a3a3a" stroke-width="0.9"/>
<path d="M130.90,268.00 C130.90,266.74 132.31,266.20 134.42,266.20 L143.38,266.20 C145.49,266.20 146.90,266.74 146.90,268.00 C146.90,269.26 145.49,269.80 143.38,269.80 L134.42,269.80 C132.31,269.80 130.90,269.26 130.90,268.00 Z" fill="#101010" fill-opacity="1" filter="url(#bl)"/>
<path d="M153.00,268.00 C153.00,266.74 154.41,266.20 156.52,266.20 L165.48,266.20 C167.59,266.20 169.00,266.74 169.00,268.00 C169.00,269.26 167.59,269.80 165.48,269.80 L156.52,269.80 C154.41,269.80 153.00,269.26 153.00,268.00 Z" fill="#101010" fill-opacity="1" filter="url(#bl)"/>
<path d="M175.60,268.00 C175.60,266.74 177.01,266.20 179.12,266.20 L188.08,266.20 C190.19,266.20 191.60,266.74 191.60,268.00 C191.60,269.26 190.19,269.80 188.08,269.80 L179.12,269.80 C177.01,269.80 175.60,269.26 175.60,268.00 Z" fill="#101010" fill-opacity="1" filter="url(#bl)"/>
<path d="M197.20,268.00 C197.20,266.74 198.61,266.20 200.72,266.20 L209.68,266.20 C211.79,266.20 213.20,266.74 213.20,268.00 C213.20,269.26 211.79,269.80 209.68,269.80 L200.72,269.80 C198.61,269.80 197.20,269.26 197.20,268.00 Z" fill="#101010" fill-opacity="1" filter="url(#bl)"/>
<path d="M218.40,268.00 C218.40,266.39 219.90,265.70 222.14,265.70 L231.66,265.70 C233.90,265.70 235.40,266.39 235.40,268.00 C235.40,269.61 233.90,270.30 231.66,270.30 L222.14,270.30 C219.90,270.30 218.40,269.61 218.40,268.00 Z" fill="#101010" fill-opacity="1" filter="url(#bl)"/>
<rect x="128.10" y="284.20" width="109.10" height="19.80" fill="#f2f2f2" stroke="#3a3a3a" stroke-width="0.9"/>
<path d="M129.65,296.60 C129.65,295.34 131.28,294.80 133.72,294.80 L144.08,294.80 C146.52,294.80 148.15,295.34 148.15,296.60 C148.15,297.86 146.52,298.40 144.08,298.40 L133.72,298.40 C131.28,298.40 129.65,297.86 129.65,296.60 Z" fill="#101010" fill-opacity="1" filter="url(#bl)"/>
<path d="M151.75,296.60 C151.75,295.34 153.38,294.80 155.82,294.80 L166.18,294.80 C168.62,294.80 170.25,295.34 170.25,296.60 C170.25,297.86 168.62,298.40 166.18,298.40 L155.82,298.40 C153.38,298.40 151.75,297.86 151.75,296.60 Z" fill="#101010" fill-opacity="1" filter="url(#bl)"/>
<path d="M174.35,296.60 C174.35,295.34 175.98,294.80 178.42,294.80 L188.78,294.80 C191.22,294.80 192.85,295.34 192.85,296.60 C192.85,297.86 191.22,298.40 188.78,298.40 L178.42,298.40 C175.98,298.40 174.35,297.86 174.35,296.60 Z" fill="#101010" fill-opacity="1" filter="url(#bl)"/>
<path d="M195.95,296.60 C195.95,295.34 197.58,294.80 200.02,294.80 L210.38,294.80 C212.82,294.80 214.45,295.34 214.45,296.60 C214.45,297.86 212.82,298.40 210.38,298.40 L200.02,298.40 C197.58,298.40 195.95,297.86 195.95,296.60 Z" fill="#101010" fill-opacity="1" filter="url(#bl)"/>
<path d="M217.65,296.60 C217.65,295.13 219.28,294.50 221.72,294.50 L232.08,294.50 C234.52,294.50 236.15,295.13 236.15,296.60 C236.15,298.07 234.52,298.70 232.08,298.70 L221.72,298.70 C219.28,298.70 217.65,298.07 217.65,296.60 Z" fill="#101010" fill-opacity="1" filter="url(#bl)"/>
<line x1="128.10" y1="185.90" x2="128.10" y2="304.40" stroke="#3a3a3a" stroke-width="1.1"/>
<line x1="237.20" y1="185.90" x2="237.20" y2="304.40" stroke="#3a3a3a" stroke-width="1.1"/>
<text x="240.30" y="197.10" font-size="6.3" textLength="22.00" lengthAdjust="spacingAndGlyphs" fill="#3e3e3e" stroke="#3e3e3e" stroke-width="0.12">pSTAT3</text>
<text x="240.30" y="221.70" font-size="6.3" textLength="33.70" lengthAdjust="spacingAndGlyphs" fill="#3e3e3e" stroke="#3e3e3e" stroke-width="0.12">Total STAT3</text>
<text x="240.30" y="244.40" font-size="6.3" textLength="22.00" lengthAdjust="spacingAndGlyphs" fill="#3e3e3e" stroke="#3e3e3e" stroke-width="0.12">pSTAT5</text>
<text x="240.30" y="269.40" font-size="6.3" textLength="33.70" lengthAdjust="spacingAndGlyphs" fill="#3e3e3e" stroke="#3e3e3e" stroke-width="0.12">Total STAT5</text>
<text x="240.30" y="297.20" font-size="6.3" textLength="19.50" lengthAdjust="spacingAndGlyphs" fill="#3e3e3e" stroke="#3e3e3e" stroke-width="0.12">β-actin</text>
<text x="289.70" y="150.70" font-size="11" font-weight="bold" fill="#111">E</text>
<line x1="322.60" y1="163.20" x2="322.60" y2="270.30" stroke="#1a1a1a" stroke-width="1.15"/>
<line x1="322.10" y1="269.80" x2="513.30" y2="269.80" stroke="#1a1a1a" stroke-width="1.15"/>
<line x1="319.40" y1="269.80" x2="322.60" y2="269.80" stroke="#222" stroke-width="0.8"/>
<text x="316.00" y="272.10" font-size="6.5" text-anchor="end" textLength="3.30" lengthAdjust="spacingAndGlyphs" fill="#3e3e3e" stroke="#3e3e3e" stroke-width="0.12">0</text>
<line x1="319.40" y1="252.50" x2="322.60" y2="252.50" stroke="#222" stroke-width="0.8"/>
<text x="316.00" y="254.80" font-size="6.5" text-anchor="end" textLength="6.60" lengthAdjust="spacingAndGlyphs" fill="#3e3e3e" stroke="#3e3e3e" stroke-width="0.12">20</text>
<line x1="319.40" y1="235.20" x2="322.60" y2="235.20" stroke="#222" stroke-width="0.8"/>
<text x="316.00" y="237.50" font-size="6.5" text-anchor="end" textLength="6.60" lengthAdjust="spacingAndGlyphs" fill="#3e3e3e" stroke="#3e3e3e" stroke-width="0.12">40</text>
<line x1="319.40" y1="217.90" x2="322.60" y2="217.90" stroke="#222" stroke-width="0.8"/>
<text x="316.00" y="220.20" font-size="6.5" text-anchor="end" textLength="6.60" lengthAdjust="spacingAndGlyphs" fill="#3e3e3e" stroke="#3e3e3e" stroke-width="0.12">60</text>
<line x1="319.40" y1="200.60" x2="322.60" y2="200.60" stroke="#222" stroke-width="0.8"/>
<text x="316.00" y="202.90" font-size="6.5" text-anchor="end" textLength="6.60" lengthAdjust="spacingAndGlyphs" fill="#3e3e3e" stroke="#3e3e3e" stroke-width="0.12">80</text>
<line x1="319.40" y1="183.30" x2="322.60" y2="183.30" stroke="#222" stroke-width="0.8"/>
<text x="316.00" y="185.60" font-size="6.5" text-anchor="end" textLength="9.80" lengthAdjust="spacingAndGlyphs" fill="#3e3e3e" stroke="#3e3e3e" stroke-width="0.12">100</text>
<line x1="319.40" y1="166.00" x2="322.60" y2="166.00" stroke="#222" stroke-width="0.8"/>
<text x="316.00" y="168.30" font-size="6.5" text-anchor="end" textLength="9.80" lengthAdjust="spacingAndGlyphs" fill="#3e3e3e" stroke="#3e3e3e" stroke-width="0.12">120</text>
<rect x="328.00" y="185.03" width="9.20" height="84.77" fill="#3aa935" />
<rect x="342.30" y="176.38" width="9.60" height="93.42" fill="#35a8e0" />
<line x1="332.60" y1="185.03" x2="332.60" y2="180.01" stroke="#3aa935" stroke-width="0.9"/>
<line x1="330.40" y1="180.01" x2="334.80" y2="180.01" stroke="#3aa935" stroke-width="0.9"/>
<line x1="347.10" y1="176.38" x2="347.10" y2="174.82" stroke="#35a8e0" stroke-width="0.9"/>
<line x1="344.90" y1="174.82" x2="349.30" y2="174.82" stroke="#35a8e0" stroke-width="0.9"/>
<line x1="339.40" y1="269.80" x2="339.40" y2="272.20" stroke="#222" stroke-width="0.8"/>
<text x="339.40" y="280.75" font-size="6.3" text-anchor="middle" fill="#3e3e3e" stroke="#3e3e3e" stroke-width="0.12">IgG</text>
<path d="M330.70,169.60 L330.70,165.40 L345.50,165.40 L345.50,169.60" fill="none" stroke="#222" stroke-width="0.85" />
<text x="338.00" y="162.60" font-size="6.5" text-anchor="middle" textLength="5.80" lengthAdjust="spacingAndGlyphs" fill="#3e3e3e" stroke="#3e3e3e" stroke-width="0.12">ns</text>
<rect x="367.20" y="176.38" width="9.20" height="93.42" fill="#3aa935" />
<rect x="381.50" y="207.95" width="9.60" height="61.85" fill="#35a8e0" />
<line x1="371.80" y1="176.38" x2="371.80" y2="172.92" stroke="#3aa935" stroke-width="0.9"/>
<line x1="369.60" y1="172.92" x2="374.00" y2="172.92" stroke="#3aa935" stroke-width="0.9"/>
<line x1="386.30" y1="207.95" x2="386.30" y2="206.22" stroke="#35a8e0" stroke-width="0.9"/>
<line x1="384.10" y1="206.22" x2="388.50" y2="206.22" stroke="#35a8e0" stroke-width="0.9"/>
<line x1="378.60" y1="269.80" x2="378.60" y2="272.20" stroke="#222" stroke-width="0.8"/>
<text x="378.60" y="280.75" font-size="6.3" text-anchor="middle" fill="#3e3e3e" stroke="#3e3e3e" stroke-width="0.12">10</text>
<path d="M371.40,169.60 L371.40,165.40 L385.80,165.40 L385.80,169.60" fill="none" stroke="#222" stroke-width="0.85" />
<text x="378.60" y="165.20" font-size="6.5" text-anchor="middle" fill="#3e3e3e" stroke="#3e3e3e" stroke-width="0.12">*</text>
<rect x="406.10" y="190.39" width="9.20" height="79.41" fill="#3aa935" />
<rect x="420.40" y="221.71" width="9.60" height="48.09" fill="#35a8e0" />
<line x1="410.70" y1="190.39" x2="410.70" y2="188.66" stroke="#3aa935" stroke-width="0.9"/>
<line x1="408.50" y1="188.66" x2="412.90" y2="188.66" stroke="#3aa935" stroke-width="0.9"/>
<line x1="425.20" y1="221.71" x2="425.20" y2="219.11" stroke="#35a8e0" stroke-width="0.9"/>
<line x1="423.00" y1="219.11" x2="427.40" y2="219.11" stroke="#35a8e0" stroke-width="0.9"/>
<line x1="417.50" y1="269.80" x2="417.50" y2="272.20" stroke="#222" stroke-width="0.8"/>
<text x="417.50" y="280.75" font-size="6.3" text-anchor="middle" fill="#3e3e3e" stroke="#3e3e3e" stroke-width="0.12">25</text>
<path d="M408.50,169.60 L408.50,165.40 L424.30,165.40 L424.30,169.60" fill="none" stroke="#222" stroke-width="0.85" />
<text x="416.50" y="165.20" font-size="6.5" text-anchor="middle" fill="#3e3e3e" stroke="#3e3e3e" stroke-width="0.12">**</text>
<rect x="445.00" y="190.39" width="9.20" height="79.41" fill="#3aa935" />
<rect x="459.30" y="223.61" width="9.60" height="46.19" fill="#35a8e0" />
<line x1="464.10" y1="223.61" x2="464.10" y2="221.45" stroke="#35a8e0" stroke-width="0.9"/>
<line x1="461.90" y1="221.45" x2="466.30" y2="221.45" stroke="#35a8e0" stroke-width="0.9"/>
<line x1="456.40" y1="269.80" x2="456.40" y2="272.20" stroke="#222" stroke-width="0.8"/>
<text x="456.40" y="280.75" font-size="6.3" text-anchor="middle" fill="#3e3e3e" stroke="#3e3e3e" stroke-width="0.12">50</text>
<path d="M447.60,169.60 L447.60,165.40 L462.80,165.40 L462.80,169.60" fill="none" stroke="#222" stroke-width="0.85" />
<text x="455.00" y="165.20" font-size="6.5" text-anchor="middle" fill="#3e3e3e" stroke="#3e3e3e" stroke-width="0.12">*</text>
<rect x="484.40" y="190.05" width="9.20" height="79.75" fill="#3aa935" />
<rect x="498.70" y="236.06" width="9.60" height="33.74" fill="#35a8e0" />
<line x1="489.00" y1="190.05" x2="489.00" y2="188.32" stroke="#3aa935" stroke-width="0.9"/>
<line x1="486.80" y1="188.32" x2="491.20" y2="188.32" stroke="#3aa935" stroke-width="0.9"/>
<line x1="503.50" y1="236.06" x2="503.50" y2="234.34" stroke="#35a8e0" stroke-width="0.9"/>
<line x1="501.30" y1="234.34" x2="505.70" y2="234.34" stroke="#35a8e0" stroke-width="0.9"/>
<line x1="495.80" y1="269.80" x2="495.80" y2="272.20" stroke="#222" stroke-width="0.8"/>
<text x="495.80" y="280.75" font-size="6.3" text-anchor="middle" fill="#3e3e3e" stroke="#3e3e3e" stroke-width="0.12">100</text>
<path d="M487.20,169.60 L487.20,165.40 L499.40,165.40 L499.40,169.60" fill="none" stroke="#222" stroke-width="0.85" />
<text x="493.10" y="165.20" font-size="6.5" text-anchor="middle" fill="#3e3e3e" stroke="#3e3e3e" stroke-width="0.12">***</text>
<text x="300.60" y="258.60" font-size="8.6" textLength="28.10" lengthAdjust="spacingAndGlyphs" fill="#3e3e3e" stroke="#3e3e3e" stroke-width="0.12" transform="rotate(-90 300.60 258.60)">Lin-CD34</text>
<line x1="293.45" y1="228.20" x2="295.75" y2="228.20" stroke="#3e3e3e" stroke-width="0.55"/>
<line x1="294.60" y1="227.05" x2="294.60" y2="229.35" stroke="#3e3e3e" stroke-width="0.55"/>
<text x="300.60" y="225.50" font-size="8.6" textLength="16.40" lengthAdjust="spacingAndGlyphs" fill="#3e3e3e" stroke="#3e3e3e" stroke-width="0.12" transform="rotate(-90 300.60 225.50)">CD38</text>
<line x1="295.20" y1="208.20" x2="295.20" y2="206.00" stroke="#3e3e3e" stroke-width="0.6"/>
<text x="300.60" y="204.80" font-size="8.6" textLength="31.20" lengthAdjust="spacingAndGlyphs" fill="#3e3e3e" stroke="#3e3e3e" stroke-width="0.12" transform="rotate(-90 300.60 204.80)">HSPCs (%)</text>
<text x="382.90" y="293.30" font-size="8" textLength="70.20" lengthAdjust="spacingAndGlyphs" fill="#3e3e3e" stroke="#3e3e3e" stroke-width="0.12">[INCA033989] (µg/mL)</text>
<rect x="363.20" y="303.80" width="10.50" height="3.60" fill="#3aa935" />
<text x="376.30" y="308.20" font-size="6.5" textLength="10.00" lengthAdjust="spacingAndGlyphs" fill="#3e3e3e" stroke="#3e3e3e" stroke-width="0.12">WT</text>
<rect x="393.70" y="303.80" width="10.50" height="3.60" fill="#35a8e0" />
<text x="407.50" y="308.20" font-size="6.5" textLength="60.00" lengthAdjust="spacingAndGlyphs" fill="#3e3e3e" stroke="#3e3e3e" stroke-width="0.12">mutCALR ID: 109647</text>
<text x="14.90" y="334.70" font-size="11" font-weight="bold" fill="#111">F</text>
<line x1="57.60" y1="349.00" x2="57.60" y2="461.70" stroke="#1a1a1a" stroke-width="1.15"/>
<line x1="57.10" y1="461.20" x2="215.60" y2="461.20" stroke="#1a1a1a" stroke-width="1.15"/>
<line x1="55.00" y1="461.20" x2="57.60" y2="461.20" stroke="#222" stroke-width="0.8"/>
<text x="51.40" y="463.50" font-size="6.3" text-anchor="end" textLength="3.30" lengthAdjust="spacingAndGlyphs" fill="#3e3e3e" stroke="#3e3e3e" stroke-width="0.12">0</text>
<line x1="55.00" y1="440.04" x2="57.60" y2="440.04" stroke="#222" stroke-width="0.8"/>
<text x="51.40" y="442.34" font-size="6.3" text-anchor="end" textLength="6.60" lengthAdjust="spacingAndGlyphs" fill="#3e3e3e" stroke="#3e3e3e" stroke-width="0.12">25</text>
<line x1="55.00" y1="418.88" x2="57.60" y2="418.88" stroke="#222" stroke-width="0.8"/>
<text x="51.40" y="421.18" font-size="6.3" text-anchor="end" textLength="6.60" lengthAdjust="spacingAndGlyphs" fill="#3e3e3e" stroke="#3e3e3e" stroke-width="0.12">50</text>
<line x1="55.00" y1="397.72" x2="57.60" y2="397.72" stroke="#222" stroke-width="0.8"/>
<text x="51.40" y="400.02" font-size="6.3" text-anchor="end" textLength="6.60" lengthAdjust="spacingAndGlyphs" fill="#3e3e3e" stroke="#3e3e3e" stroke-width="0.12">75</text>
<line x1="55.00" y1="376.56" x2="57.60" y2="376.56" stroke="#222" stroke-width="0.8"/>
<text x="51.40" y="378.86" font-size="6.3" text-anchor="end" textLength="9.90" lengthAdjust="spacingAndGlyphs" fill="#3e3e3e" stroke="#3e3e3e" stroke-width="0.12">100</text>
<line x1="55.00" y1="355.40" x2="57.60" y2="355.40" stroke="#222" stroke-width="0.8"/>
<text x="51.40" y="357.70" font-size="6.3" text-anchor="end" textLength="9.90" lengthAdjust="spacingAndGlyphs" fill="#3e3e3e" stroke="#3e3e3e" stroke-width="0.12">125</text>
<rect x="65.80" y="377.41" width="11.90" height="83.79" fill="#c8102e" />
<rect x="86.30" y="363.44" width="12.50" height="97.76" fill="#1b4f8f" />
<rect x="120.20" y="377.41" width="12.50" height="83.79" fill="#c8102e" />
<rect x="140.00" y="444.02" width="13.80" height="17.18" fill="#1b4f8f" />
<rect x="174.90" y="377.41" width="13.60" height="83.79" fill="#c8102e" />
<rect x="196.20" y="412.28" width="12.30" height="48.92" fill="#1b4f8f" />
<line x1="92.50" y1="363.44" x2="92.50" y2="360.06" stroke="#1b4f8f" stroke-width="0.9"/>
<line x1="90.30" y1="360.06" x2="94.70" y2="360.06" stroke="#1b4f8f" stroke-width="0.9"/>
<line x1="147.00" y1="444.02" x2="147.00" y2="441.90" stroke="#1b4f8f" stroke-width="0.9"/>
<line x1="144.80" y1="441.90" x2="149.20" y2="441.90" stroke="#1b4f8f" stroke-width="0.9"/>
<line x1="202.30" y1="412.28" x2="202.30" y2="400.26" stroke="#1b4f8f" stroke-width="0.9"/>
<line x1="199.80" y1="400.26" x2="204.80" y2="400.26" stroke="#1b4f8f" stroke-width="0.9"/>
<circle cx="66.60" cy="376.76" r="2.05" fill="#fff" stroke="#1a1a1a" stroke-width="0.8"/>
<circle cx="69.80" cy="376.76" r="2.05" fill="#fff" stroke="#1a1a1a" stroke-width="0.8"/>
<circle cx="73.00" cy="376.76" r="2.05" fill="#fff" stroke="#1a1a1a" stroke-width="0.8"/>
<circle cx="76.20" cy="376.76" r="2.05" fill="#fff" stroke="#1a1a1a" stroke-width="0.8"/>
<circle cx="121.60" cy="376.76" r="2.05" fill="#fff" stroke="#1a1a1a" stroke-width="0.8"/>
<circle cx="124.80" cy="376.76" r="2.05" fill="#fff" stroke="#1a1a1a" stroke-width="0.8"/>
<circle cx="128.00" cy="376.76" r="2.05" fill="#fff" stroke="#1a1a1a" stroke-width="0.8"/>
<circle cx="131.20" cy="376.76" r="2.05" fill="#fff" stroke="#1a1a1a" stroke-width="0.8"/>
<circle cx="176.60" cy="376.76" r="2.05" fill="#fff" stroke="#1a1a1a" stroke-width="0.8"/>
<circle cx="180.00" cy="376.76" r="2.05" fill="#fff" stroke="#1a1a1a" stroke-width="0.8"/>
<circle cx="183.40" cy="376.76" r="2.05" fill="#fff" stroke="#1a1a1a" stroke-width="0.8"/>
<circle cx="186.60" cy="376.76" r="2.05" fill="#fff" stroke="#1a1a1a" stroke-width="0.8"/>
<circle cx="87.50" cy="354.80" r="2.05" fill="#fff" stroke="#1a1a1a" stroke-width="0.8"/>
<circle cx="87.50" cy="360.20" r="2.05" fill="#fff" stroke="#1a1a1a" stroke-width="0.8"/>
<circle cx="97.20" cy="358.70" r="2.05" fill="#fff" stroke="#1a1a1a" stroke-width="0.8"/>
<circle cx="92.20" cy="366.40" r="2.05" fill="none" stroke="#1a1a1a" stroke-width="0.8"/>
<circle cx="92.20" cy="372.90" r="2.05" fill="none" stroke="#1a1a1a" stroke-width="0.8"/>
<circle cx="147.10" cy="411.20" r="2.05" fill="#fff" stroke="#1a1a1a" stroke-width="0.8"/>
<circle cx="147.10" cy="424.20" r="2.05" fill="#fff" stroke="#1a1a1a" stroke-width="0.8"/>
<circle cx="142.30" cy="436.20" r="2.05" fill="#fff" stroke="#1a1a1a" stroke-width="0.8"/>
<circle cx="147.10" cy="432.70" r="2.05" fill="#fff" stroke="#1a1a1a" stroke-width="0.8"/>
<circle cx="152.30" cy="435.20" r="2.05" fill="#fff" stroke="#1a1a1a" stroke-width="0.8"/>
<circle cx="147.10" cy="439.40" r="2.05" fill="#fff" stroke="#1a1a1a" stroke-width="0.8"/>
<circle cx="143.00" cy="442.50" r="2.05" fill="#fff" stroke="#1a1a1a" stroke-width="0.8"/>
<circle cx="142.80" cy="446.00" r="2.05" fill="none" stroke="#1a1a1a" stroke-width="0.8"/>
<circle cx="147.20" cy="446.50" r="2.05" fill="none" stroke="#1a1a1a" stroke-width="0.8"/>
<circle cx="151.60" cy="445.50" r="2.05" fill="none" stroke="#1a1a1a" stroke-width="0.8"/>
<circle cx="143.00" cy="450.50" r="2.05" fill="none" stroke="#1a1a1a" stroke-width="0.8"/>
<circle cx="147.50" cy="451.00" r="2.05" fill="none" stroke="#1a1a1a" stroke-width="0.8"/>
<circle cx="152.00" cy="450.50" r="2.05" fill="none" stroke="#1a1a1a" stroke-width="0.8"/>
<circle cx="142.50" cy="455.50" r="2.05" fill="none" stroke="#1a1a1a" stroke-width="0.8"/>
<circle cx="147.00" cy="455.50" r="2.05" fill="none" stroke="#1a1a1a" stroke-width="0.8"/>
<circle cx="151.50" cy="455.00" r="2.05" fill="none" stroke="#1a1a1a" stroke-width="0.8"/>
<circle cx="142.50" cy="460.30" r="2.05" fill="none" stroke="#1a1a1a" stroke-width="0.8"/>
<circle cx="147.00" cy="460.30" r="2.05" fill="none" stroke="#1a1a1a" stroke-width="0.8"/>
<circle cx="151.80" cy="460.30" r="2.05" fill="none" stroke="#1a1a1a" stroke-width="0.8"/>
<circle cx="202.00" cy="357.00" r="2.05" fill="#fff" stroke="#1a1a1a" stroke-width="0.8"/>
<circle cx="202.00" cy="371.30" r="2.05" fill="#fff" stroke="#1a1a1a" stroke-width="0.8"/>
<circle cx="197.20" cy="403.00" r="2.05" fill="#fff" stroke="#1a1a1a" stroke-width="0.8"/>
<circle cx="197.20" cy="408.80" r="2.05" fill="#fff" stroke="#1a1a1a" stroke-width="0.8"/>
<circle cx="206.90" cy="405.30" r="2.05" fill="#fff" stroke="#1a1a1a" stroke-width="0.8"/>
<circle cx="202.30" cy="414.60" r="2.05" fill="none" stroke="#1a1a1a" stroke-width="0.8"/>
<circle cx="202.30" cy="430.20" r="2.05" fill="none" stroke="#1a1a1a" stroke-width="0.8"/>
<circle cx="197.20" cy="455.40" r="2.05" fill="none" stroke="#1a1a1a" stroke-width="0.8"/>
<circle cx="206.90" cy="453.90" r="2.05" fill="none" stroke="#1a1a1a" stroke-width="0.8"/>
<line x1="82.00" y1="461.20" x2="82.00" y2="463.40" stroke="#222" stroke-width="0.8"/>
<line x1="136.50" y1="461.20" x2="136.50" y2="463.40" stroke="#222" stroke-width="0.8"/>
<line x1="191.80" y1="461.20" x2="191.80" y2="463.40" stroke="#222" stroke-width="0.8"/>
<path d="M126.90,369.80 L126.90,360.50 L147.40,360.50 L147.40,406.30" fill="none" stroke="#333" stroke-width="0.85" />
<text x="131.20" y="360.60" font-size="6.6" textLength="10.90" lengthAdjust="spacingAndGlyphs" fill="#3e3e3e" stroke="#3e3e3e" stroke-width="0.12">****</text>
<path d="M182.30,371.00 L182.30,349.80 L202.50,349.80 L202.50,353.50" fill="none" stroke="#333" stroke-width="0.85" />
<text x="181.00" y="346.70" font-size="6.6" fill="#3e3e3e" stroke="#3e3e3e" stroke-width="0.12" style="font-style:italic">P</text>
<text x="186.40" y="346.70" font-size="6.6" textLength="15.00" lengthAdjust="spacingAndGlyphs" fill="#3e3e3e" stroke="#3e3e3e" stroke-width="0.12">= .09</text>
<text x="26.10" y="428.90" font-size="8.2" textLength="15.60" lengthAdjust="spacingAndGlyphs" fill="#3e3e3e" stroke="#3e3e3e" stroke-width="0.12" transform="rotate(-90 26.10 428.90)">CD41</text>
<line x1="19.40" y1="410.80" x2="21.80" y2="410.80" stroke="#3e3e3e" stroke-width="0.55"/>
<line x1="20.60" y1="409.60" x2="20.60" y2="412.00" stroke="#3e3e3e" stroke-width="0.55"/>
<text x="26.10" y="408.30" font-size="8.2" textLength="22.70" lengthAdjust="spacingAndGlyphs" fill="#3e3e3e" stroke="#3e3e3e" stroke-width="0.12" transform="rotate(-90 26.10 408.30)">CD42b</text>
<line x1="19.40" y1="383.10" x2="21.80" y2="383.10" stroke="#3e3e3e" stroke-width="0.55"/>
<line x1="20.60" y1="381.90" x2="20.60" y2="384.30" stroke="#3e3e3e" stroke-width="0.55"/>
<text x="34.80" y="434.50" font-size="8.0" textLength="59.50" lengthAdjust="spacingAndGlyphs" fill="#3e3e3e" stroke="#3e3e3e" stroke-width="0.12" transform="rotate(-90 34.80 434.50)">megakaryocytes (%)</text>
<text x="68.00" y="474.90" font-size="6.8" textLength="15.80" lengthAdjust="spacingAndGlyphs" fill="#3e3e3e" stroke="#3e3e3e" stroke-width="0.12">JAK2</text>
<text x="84.00" y="471.00" font-size="4.2" textLength="11.50" lengthAdjust="spacingAndGlyphs" fill="#3e3e3e" stroke="#3e3e3e" stroke-width="0.12" style="font-style:italic">V617F</text>
<text x="123.40" y="474.90" font-size="6.8" textLength="17.50" lengthAdjust="spacingAndGlyphs" fill="#3e3e3e" stroke="#3e3e3e" stroke-width="0.12">CALR</text>
<text x="141.20" y="471.00" font-size="4.2" textLength="9.20" lengthAdjust="spacingAndGlyphs" fill="#3e3e3e" stroke="#3e3e3e" stroke-width="0.12" style="font-style:italic">del52</text>
<text x="179.80" y="474.90" font-size="6.8" textLength="17.50" lengthAdjust="spacingAndGlyphs" fill="#3e3e3e" stroke="#3e3e3e" stroke-width="0.12">CALR</text>
<text x="197.60" y="471.00" font-size="4.2" textLength="6.50" lengthAdjust="spacingAndGlyphs" fill="#3e3e3e" stroke="#3e3e3e" stroke-width="0.12" style="font-style:italic">ins5</text>
<rect x="91.20" y="480.80" width="10.30" height="3.90" fill="#c8102e" />
<text x="104.60" y="485.20" font-size="6.8" textLength="21.20" lengthAdjust="spacingAndGlyphs" fill="#3e3e3e" stroke="#3e3e3e" stroke-width="0.12">Isotype</text>
<rect x="132.30" y="480.80" width="10.30" height="3.90" fill="#1b4f8f" />
<text x="144.50" y="485.20" font-size="6.8" textLength="38.80" lengthAdjust="spacingAndGlyphs" fill="#3e3e3e" stroke="#3e3e3e" stroke-width="0.12">INCA033989</text>
<text x="237.60" y="334.80" font-size="11" font-weight="bold" fill="#111">G</text>
<line x1="265.20" y1="361.20" x2="265.20" y2="451.10" stroke="#1a1a1a" stroke-width="1.15"/>
<line x1="264.70" y1="450.60" x2="465.20" y2="450.60" stroke="#1a1a1a" stroke-width="1.15"/>
<line x1="262.60" y1="450.60" x2="265.20" y2="450.60" stroke="#222" stroke-width="0.8"/>
<text x="259.20" y="452.90" font-size="6.3" text-anchor="end" textLength="3.30" lengthAdjust="spacingAndGlyphs" fill="#3e3e3e" stroke="#3e3e3e" stroke-width="0.12">0</text>
<line x1="262.60" y1="433.58" x2="265.20" y2="433.58" stroke="#222" stroke-width="0.8"/>
<text x="259.20" y="435.88" font-size="6.3" text-anchor="end" textLength="6.60" lengthAdjust="spacingAndGlyphs" fill="#3e3e3e" stroke="#3e3e3e" stroke-width="0.12">25</text>
<line x1="262.60" y1="416.56" x2="265.20" y2="416.56" stroke="#222" stroke-width="0.8"/>
<text x="259.20" y="418.86" font-size="6.3" text-anchor="end" textLength="6.60" lengthAdjust="spacingAndGlyphs" fill="#3e3e3e" stroke="#3e3e3e" stroke-width="0.12">50</text>
<line x1="262.60" y1="399.54" x2="265.20" y2="399.54" stroke="#222" stroke-width="0.8"/>
<text x="259.20" y="401.84" font-size="6.3" text-anchor="end" textLength="6.60" lengthAdjust="spacingAndGlyphs" fill="#3e3e3e" stroke="#3e3e3e" stroke-width="0.12">75</text>
<line x1="262.60" y1="382.52" x2="265.20" y2="382.52" stroke="#222" stroke-width="0.8"/>
<text x="259.20" y="384.82" font-size="6.3" text-anchor="end" textLength="9.90" lengthAdjust="spacingAndGlyphs" fill="#3e3e3e" stroke="#3e3e3e" stroke-width="0.12">100</text>
<line x1="262.60" y1="365.50" x2="265.20" y2="365.50" stroke="#222" stroke-width="0.8"/>
<text x="259.20" y="367.80" font-size="6.3" text-anchor="end" textLength="9.90" lengthAdjust="spacingAndGlyphs" fill="#3e3e3e" stroke="#3e3e3e" stroke-width="0.12">125</text>
<rect x="274.60" y="382.52" width="18.70" height="68.08" fill="#a4b86d" />
<line x1="283.95" y1="382.52" x2="283.95" y2="379.80" stroke="#a4b86d" stroke-width="0.9"/>
<line x1="280.45" y1="379.80" x2="287.45" y2="379.80" stroke="#a4b86d" stroke-width="0.9"/>
<line x1="283.95" y1="450.60" x2="283.95" y2="452.90" stroke="#222" stroke-width="0.8"/>
<rect x="303.10" y="405.33" width="18.80" height="45.27" fill="#35a8e0" />
<line x1="312.50" y1="405.33" x2="312.50" y2="402.40" stroke="#35a8e0" stroke-width="0.9"/>
<line x1="309.00" y1="402.40" x2="316.00" y2="402.40" stroke="#35a8e0" stroke-width="0.9"/>
<line x1="312.50" y1="450.60" x2="312.50" y2="452.90" stroke="#222" stroke-width="0.8"/>
<rect x="331.90" y="408.19" width="18.90" height="42.41" fill="#35a8e0" />
<line x1="341.35" y1="408.19" x2="341.35" y2="405.80" stroke="#35a8e0" stroke-width="0.9"/>
<line x1="337.85" y1="405.80" x2="344.85" y2="405.80" stroke="#35a8e0" stroke-width="0.9"/>
<line x1="341.35" y1="450.60" x2="341.35" y2="452.90" stroke="#222" stroke-width="0.8"/>
<rect x="379.60" y="382.52" width="18.90" height="68.08" fill="#a4b86d" />
<line x1="389.05" y1="382.52" x2="389.05" y2="378.64" stroke="#a4b86d" stroke-width="0.9"/>
<line x1="385.55" y1="378.64" x2="392.55" y2="378.64" stroke="#a4b86d" stroke-width="0.9"/>
<line x1="389.05" y1="450.60" x2="389.05" y2="452.90" stroke="#222" stroke-width="0.8"/>
<rect x="408.10" y="416.22" width="18.60" height="34.38" fill="#3e4b63" />
<line x1="417.40" y1="416.22" x2="417.40" y2="408.25" stroke="#3e4b63" stroke-width="0.9"/>
<line x1="413.90" y1="408.25" x2="420.90" y2="408.25" stroke="#3e4b63" stroke-width="0.9"/>
<line x1="417.40" y1="450.60" x2="417.40" y2="452.90" stroke="#222" stroke-width="0.8"/>
<rect x="436.90" y="430.92" width="18.30" height="19.68" fill="#3e4b63" />
<line x1="446.05" y1="430.92" x2="446.05" y2="428.88" stroke="#3e4b63" stroke-width="0.9"/>
<line x1="442.55" y1="428.88" x2="449.55" y2="428.88" stroke="#3e4b63" stroke-width="0.9"/>
<line x1="446.05" y1="450.60" x2="446.05" y2="452.90" stroke="#222" stroke-width="0.8"/>
<path d="M283.90,374.80 L283.90,371.30 L312.40,371.30 L312.40,391.50" fill="none" stroke="#333" stroke-width="0.85" />
<text x="297.80" y="371.40" font-size="6.5" text-anchor="middle" fill="#3e3e3e" stroke="#3e3e3e" stroke-width="0.12">**</text>
<path d="M283.90,366.00 L283.90,362.50 L341.30,362.50 L341.30,385.20" fill="none" stroke="#333" stroke-width="0.85" />
<text x="311.80" y="362.20" font-size="6.5" text-anchor="middle" fill="#3e3e3e" stroke="#3e3e3e" stroke-width="0.12">***</text>
<path d="M337.30,353.50 L337.30,348.70 L445.20,348.70 L445.20,353.50" fill="none" stroke="#333" stroke-width="0.85" />
<text x="391.20" y="349.00" font-size="6.5" text-anchor="middle" fill="#3e3e3e" stroke="#3e3e3e" stroke-width="0.12">***</text>
<path d="M388.70,376.20 L388.70,371.30 L417.20,371.30 L417.20,394.40" fill="none" stroke="#333" stroke-width="0.85" />
<text x="403.00" y="371.40" font-size="6.5" text-anchor="middle" fill="#3e3e3e" stroke="#3e3e3e" stroke-width="0.12">*</text>
<path d="M388.70,366.00 L388.70,362.10 L446.10,362.10 L446.10,415.40" fill="none" stroke="#333" stroke-width="0.85" />
<text x="417.20" y="362.00" font-size="6.5" text-anchor="middle" fill="#3e3e3e" stroke="#3e3e3e" stroke-width="0.12">***</text>
<text x="284.20" y="462.60" font-size="6.5" text-anchor="middle" textLength="10.00" lengthAdjust="spacingAndGlyphs" fill="#3e3e3e" stroke="#3e3e3e" stroke-width="0.12">IgG</text>
<text x="388.90" y="462.60" font-size="6.5" text-anchor="middle" textLength="10.00" lengthAdjust="spacingAndGlyphs" fill="#3e3e3e" stroke="#3e3e3e" stroke-width="0.12">IgG</text>
<text x="300.80" y="462.60" font-size="6.5" textLength="23.80" lengthAdjust="spacingAndGlyphs" fill="#3e3e3e" stroke="#3e3e3e" stroke-width="0.12">5 µg/mL</text>
<text x="327.70" y="462.60" font-size="6.5" textLength="26.90" lengthAdjust="spacingAndGlyphs" fill="#3e3e3e" stroke="#3e3e3e" stroke-width="0.12">10 µg/mL</text>
<text x="405.60" y="462.60" font-size="6.5" textLength="22.10" lengthAdjust="spacingAndGlyphs" fill="#3e3e3e" stroke="#3e3e3e" stroke-width="0.12">5 µg/mL</text>
<text x="432.50" y="462.60" font-size="6.5" textLength="27.50" lengthAdjust="spacingAndGlyphs" fill="#3e3e3e" stroke="#3e3e3e" stroke-width="0.12">10 µg/mL</text>
<path d="M312.30,466.50 L312.30,472.30 L349.40,472.30 L349.40,466.50" fill="none" stroke="#333" stroke-width="0.85" />
<path d="M417.20,467.50 L417.20,472.30 L455.30,472.30 L455.30,467.50" fill="none" stroke="#333" stroke-width="0.85" />
<text x="312.30" y="481.30" font-size="6.5" textLength="37.50" lengthAdjust="spacingAndGlyphs" fill="#3e3e3e" stroke="#3e3e3e" stroke-width="0.12">INCA033989</text>
<text x="417.70" y="480.80" font-size="6.5" textLength="37.40" lengthAdjust="spacingAndGlyphs" fill="#3e3e3e" stroke="#3e3e3e" stroke-width="0.12">INCA033989</text>
<rect x="297.50" y="490.20" width="10.00" height="3.80" fill="#35a8e0" />
<text x="310.40" y="494.40" font-size="6.5" textLength="49.00" lengthAdjust="spacingAndGlyphs" fill="#3e3e3e" stroke="#3e3e3e" stroke-width="0.12">Day 6 (mutCALR)</text>
<rect x="367.00" y="490.20" width="10.30" height="3.80" fill="#3e4b63" />
<text x="380.00" y="494.40" font-size="6.5" textLength="53.40" lengthAdjust="spacingAndGlyphs" fill="#3e3e3e" stroke="#3e3e3e" stroke-width="0.12">Day 12 (mutCALR)</text>
<text x="242.90" y="448.20" font-size="8.6" textLength="27.60" lengthAdjust="spacingAndGlyphs" fill="#3e3e3e" stroke="#3e3e3e" stroke-width="0.12" transform="rotate(-90 242.90 448.20)">Lin-CD34</text>
<line x1="236.25" y1="417.60" x2="238.55" y2="417.60" stroke="#3e3e3e" stroke-width="0.55"/>
<line x1="237.40" y1="416.45" x2="237.40" y2="418.75" stroke="#3e3e3e" stroke-width="0.55"/>
<text x="242.90" y="415.30" font-size="8.6" textLength="17.30" lengthAdjust="spacingAndGlyphs" fill="#3e3e3e" stroke="#3e3e3e" stroke-width="0.12" transform="rotate(-90 242.90 415.30)">CD38</text>
<line x1="238.00" y1="397.30" x2="238.00" y2="395.10" stroke="#3e3e3e" stroke-width="0.6"/>
<text x="242.90" y="393.80" font-size="8.6" textLength="31.30" lengthAdjust="spacingAndGlyphs" fill="#3e3e3e" stroke="#3e3e3e" stroke-width="0.12" transform="rotate(-90 242.90 393.80)">HSPCs (%)</text>
<text x="151.50" y="520.60" font-size="11" font-weight="bold" fill="#111">H</text>
<rect x="161.80" y="525.60" width="167.85" height="136.80" fill="#0a0b0d" stroke="#000" stroke-width="0.8"/>
<defs><filter id="ntex" x="0" y="0" width="100%" height="100%" color-interpolation-filters="sRGB"><feTurbulence type="fractalNoise" baseFrequency="0.17" numOctaves="3" seed="7" result="n"/><feColorMatrix in="n" type="matrix" values="0 0 0 0 0.07  0 0 0 0 0.06  0 0 0 0 0.2  3.2 0 0 0 -1.3" result="d"/><feComposite in="d" in2="SourceGraphic" operator="in" result="c"/><feGaussianBlur in="c" stdDeviation="0.5"/></filter><filter id="mtex" x="0" y="0" width="100%" height="100%" color-interpolation-filters="sRGB"><feTurbulence type="fractalNoise" baseFrequency="0.16" numOctaves="2" seed="11" result="n"/><feColorMatrix in="n" type="matrix" values="0 0 0 0 0.6  0 0 0 0 0.16  0 0 0 0 0.58  3.2 0 0 0 -1.25" result="d"/><feComposite in="d" in2="SourceGraphic" operator="in" result="c"/><feGaussianBlur in="c" stdDeviation="0.45"/></filter><filter id="gtex" x="-10%" y="-10%" width="120%" height="120%" color-interpolation-filters="sRGB"><feTurbulence type="fractalNoise" baseFrequency="0.17" numOctaves="2" seed="5" result="n"/><feColorMatrix in="n" type="matrix" values="0 0 0 0 0.45  0 0 0 0 0.85  0 0 0 0 0.3  5 0 0 0 -2.6" result="d"/><feComposite in="d" in2="SourceGraphic" operator="in" result="c"/><feGaussianBlur in="c" stdDeviation="0.4"/></filter><filter id="wtex" x="-10%" y="-10%" width="120%" height="120%" color-interpolation-filters="sRGB"><feTurbulence type="fractalNoise" baseFrequency="0.2" numOctaves="2" seed="21" result="n"/><feColorMatrix in="n" type="matrix" values="0 0 0 0 0.95  0 0 0 0 0.95  0 0 0 0 0.9  6 0 0 0 -3.4" result="d"/><feComposite in="d" in2="SourceGraphic" operator="in" result="c"/><feGaussianBlur in="c" stdDeviation="0.4"/></filter><filter id="gpatch" x="-10%" y="-10%" width="120%" height="120%" color-interpolation-filters="sRGB"><feTurbulence type="fractalNoise" baseFrequency="0.2" numOctaves="2" seed="3" result="n"/><feColorMatrix in="n" type="matrix" values="0 0 0 0 0  0 0 0 0 0  0 0 0 0 0  5 0 0 0 -1.3" result="m"/><feComposite in="SourceGraphic" in2="m" operator="in" result="c"/><feGaussianBlur in="c" stdDeviation="0.55"/></filter></defs>
<g>
<ellipse cx="243.4" cy="593" rx="29.6" ry="37.4" fill="#33298f" filter="url(#hb)"/>
<ellipse cx="243.4" cy="593" rx="28.8" ry="36.6" fill="#000" filter="url(#ntex)"/>
<g fill="none" stroke="#6ad444" stroke-linecap="round" filter="url(#gpatch)">
<path d="M203,578 Q208,565 218,558.5" stroke-width="3.4"/>
<path d="M216,561 Q226,554.5 236,553.8" stroke-width="1.6" stroke-dasharray="3 2"/>
<path d="M238,553.6 Q248,553.6 256,556.2" stroke-width="1.5" stroke-dasharray="4 2"/>
<path d="M258,557 Q265,561 269,569" stroke-width="2.2"/>
<path d="M266,626 Q258,632 250,633.6" stroke-width="1.8" stroke-dasharray="4 2"/>
<path d="M247,634 Q233,634 219,627" stroke-width="2.2" stroke-dasharray="6 1.5"/>
<path d="M199.5,588 Q200,606 209,620" stroke-width="4.2"/>
</g>
<path d="M272,575 Q280,578 281.5,590 Q282,602 276,609 Q273,602 273.5,594 Q271.5,586 272,575 Z" fill="#70d848" filter="url(#gpatch)"/>
<path d="M204,584 Q214,571 226,579 Q240,588 240,600 Q236,616 222,623 Q209,620 204,606 Z" fill="#08060f" fill-opacity="0.75" filter="url(#hb2)"/>
<path d="M205,582 Q214,570 226,578 Q240,586 240,600 Q236,616 222,623 Q209,620 204,606 Z" fill="#000" filter="url(#mtex)"/>
<path d="M202,588 Q210,572 224,582 Q232,596 240,596 Q240,606 232,614 Q220,622 207,616 Q201,604 202,588 Z" fill="#000" filter="url(#gtex)"/>
<path d="M202,588 Q212,576 222,585 Q230,594 240,595 Q238,606 228,610 Q215,614 205,608 Q200,600 202,588 Z" fill="#000" filter="url(#wtex)"/>
<g filter="url(#hb)">
<ellipse cx="206" cy="594" rx="3.5" ry="5.5" fill="#eeeee6" fill-opacity="0.85"/>
<ellipse cx="233.5" cy="597.5" rx="4" ry="3" fill="#e6ecd8" fill-opacity="0.8"/>
<ellipse cx="213.5" cy="579" rx="3" ry="2.2" fill="#e0b8e0" fill-opacity="0.8"/>
<ellipse cx="228" cy="610" rx="3" ry="2.5" fill="#80d058" fill-opacity="0.85"/>
<ellipse cx="208" cy="612" rx="2.5" ry="3" fill="#d8f0d0" fill-opacity="0.8"/>
</g>
</g>
<line x1="246.90" y1="654.90" x2="321.40" y2="654.90" stroke="#c8c8c8" stroke-width="1.3"/>
<line x1="247.10" y1="652.70" x2="247.10" y2="657.20" stroke="#c8c8c8" stroke-width="0.9"/>
<line x1="321.30" y1="652.70" x2="321.30" y2="657.20" stroke="#c8c8c8" stroke-width="0.9"/>
<text x="270.40" y="651.70" font-size="9" textLength="27.80" lengthAdjust="spacingAndGlyphs" fill="#ececec" stroke="#ececec" stroke-width="0.12">10 µm</text>
<text x="161.90" y="670.90" font-size="6.3" textLength="65.00" lengthAdjust="spacingAndGlyphs" fill="#3e3e3e" stroke="#3e3e3e" stroke-width="0.12">Green: cell membrane</text>
<text x="161.90" y="678.30" font-size="6.3" textLength="38.30" lengthAdjust="spacingAndGlyphs" fill="#3e3e3e" stroke="#3e3e3e" stroke-width="0.12">Blue: nucleus</text>
<text x="161.90" y="686.20" font-size="6.3" textLength="67.30" lengthAdjust="spacingAndGlyphs" fill="#3e3e3e" stroke="#3e3e3e" stroke-width="0.12">Magenta: INCA033989</text>
<rect x="0.5" y="0.5" width="519" height="694" fill="none" stroke="#585858" stroke-width="1.1"/>
</svg>
</body></html>
